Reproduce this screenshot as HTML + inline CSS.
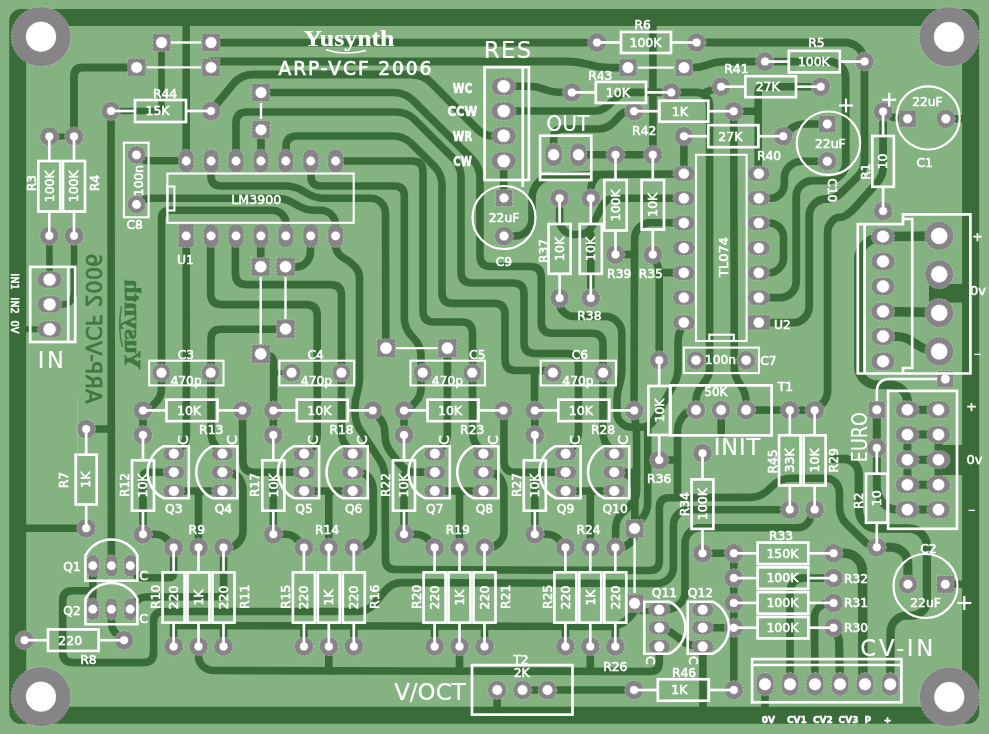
<!DOCTYPE html><html><head><meta charset="utf-8"><title>ARP-VCF 2006 PCB</title>
<style>html,body{margin:0;padding:0;background:#84b381}svg{display:block;will-change:transform}text{font-family:"DejaVu Sans","Liberation Sans",sans-serif;fill:#ffffff;stroke:#ffffff;stroke-width:0.55px}.logo{font-family:"Liberation Serif",serif;font-weight:bold}.cu{fill:#3f783e;stroke:#3f783e;stroke-width:0.8px}.big{stroke-width:0.6px}</style></head><body>
<svg width="989" height="734" viewBox="0 0 989 734">
<rect width="989" height="734" fill="#84b381"/>
<g fill="none" stroke="#396c38" stroke-linecap="round" stroke-linejoin="round">
<rect x="17.7" y="17.55" width="952.9" height="697.75" rx="3" stroke-width="17"/>
<path d="M161.5 42.5 L161.5 107.0 Q161.5 111.0 157.5 111.0 L111.0 111.0" stroke-width="6.5"/>
<path d="M186.2 161.0 L186.2 20.0" stroke-width="7.6"/>
<path d="M211.0 42.7 L597.0 42.7" stroke-width="7.8"/>
<path d="M211.0 61.5 L568.0 61.5 Q578.0 61.5 587.6 64.2 L590.4 64.9 Q600.0 67.6 610.0 67.6 L628.0 67.6" stroke-width="7.8"/>
<path d="M74.0 136.4 L74.0 76.5 Q74.0 67.5 83.0 67.5 L136.6 67.5" stroke-width="7.8"/>
<path d="M49.3 136.4 L74.0 136.4" stroke-width="6"/>
<path d="M49.3 236.0 L49.6 279.6" stroke-width="6.5"/>
<path d="M74.0 236.0 L74.0 292.2 Q74.0 297.0 71.0 300.7 L71.0 300.7 Q68.0 304.4 63.2 304.4 L49.6 304.4" stroke-width="6.5"/>
<path d="M49.6 329.3 L20.0 329.3" stroke-width="6"/>
<path d="M136.5 154.9 L142.5 159.1 Q145.0 160.8 148.0 160.8 L186.0 160.8" stroke-width="7.6"/>
<path d="M261.0 129.7 L261.0 161.0" stroke-width="7.6"/>
<path d="M211.0 111.0 L233.4 83.8 Q241.0 74.5 253.0 74.5 L411.0 74.5 Q423.0 74.5 431.5 83.0 L477.1 129.0 Q484.0 136.0 493.9 136.0 L503.7 136.0" stroke-width="7.8"/>
<path d="M211.0 161.0 L211.0 176.0 Q211.0 186.0 221.0 186.0 L285.0 186.0 Q295.0 186.0 303.5 191.2 L306.5 193.1 Q315.0 198.3 325.0 198.3 L370.9 198.3 Q377.0 198.3 381.2 202.7 L381.2 202.7 Q385.5 207.0 385.5 213.1 L385.8 348.0" stroke-width="7.6"/>
<path d="M136.5 204.5 L140.8 201.4 Q145.0 198.3 150.3 198.3 L276.0 198.3 Q285.0 198.3 292.8 202.8 L298.2 205.8 Q306.0 210.3 315.0 210.3 L320.9 210.3 Q327.0 210.3 331.3 214.7 L331.3 214.7 Q335.6 219.0 335.6 225.1 L335.6 236.0" stroke-width="7.6"/>
<path d="M161.5 373.0 L161.5 219.3 Q161.5 210.3 170.5 210.3 L272.4 210.3 Q278.0 210.3 282.0 214.2 L282.0 214.2 Q286.0 218.0 286.0 223.6 L286.0 236.0" stroke-width="7.6"/>
<path d="M311.0 161.0 L311.0 176.0 Q311.0 186.0 321.0 186.0 L394.3 186.0 Q404.3 186.0 404.3 196.0 L404.3 318.0 Q404.3 328.0 411.1 335.3 L414.2 338.7 Q421.0 346.0 421.0 356.0 L421.0 387.9 Q421.0 396.0 415.5 402.0 L412.2 405.6 Q410.0 408.0 407.0 409.2 L404.0 410.5" stroke-width="7.6"/>
<path d="M335.6 161.0 L412.0 161.0 Q423.0 161.0 423.0 172.0 L423.0 311.0 Q423.0 322.0 434.0 322.0 L461.5 322.0 Q472.5 322.0 472.5 333.0 L472.5 432.2 Q472.5 441.0 478.6 447.4 L484.6 453.8" stroke-width="7.6"/>
<path d="M286.0 161.0 L286.0 147.0 Q286.0 136.0 297.0 136.0 L393.0 136.0 Q404.0 136.0 411.8 143.8 L434.2 166.2 Q442.0 174.0 442.0 185.0 L442.0 292.4 Q442.0 303.4 453.0 303.4 L494.0 303.4 Q505.0 303.4 505.0 314.4 L505.0 359.5 Q505.0 370.5 516.0 370.5 L553.0 370.5" stroke-width="7.6"/>
<path d="M534.5 370.5 L534.5 410.3" stroke-width="7.6"/>
<path d="M236.0 161.0 L236.0 123.0 Q236.0 112.0 247.0 112.0 L396.0 112.0 Q407.0 112.0 414.8 119.8 L453.2 158.2 Q461.0 166.0 461.0 177.0 L461.0 272.0 Q461.0 283.0 472.0 283.0 L513.0 283.0 Q524.0 283.0 524.0 294.0 L524.0 342.5 Q524.0 353.5 535.0 353.5 L567.5 353.5 Q578.5 353.5 578.5 364.5 L578.5 431.1 Q578.5 440.0 572.9 446.9 L567.3 453.8" stroke-width="7.6"/>
<path d="M261.0 92.5 L394.0 92.5 Q405.0 92.5 412.8 100.3 L472.2 159.2 Q480.0 167.0 480.0 178.0 L480.0 255.5 Q480.0 266.5 491.0 266.5 L530.3 266.5 Q541.3 266.5 541.3 277.5 L541.3 322.3 Q541.3 333.3 552.3 333.3 L592.0 333.3 Q603.0 333.3 603.0 344.3 L603.0 432.2 Q603.0 441.0 609.1 447.4 L615.2 453.8" stroke-width="7.6"/>
<path d="M186.2 235.8 L186.4 435.0 Q186.4 443.0 180.3 448.2 L173.8 453.8" stroke-width="7.6"/>
<path d="M210.7 235.8 L210.7 293.6 Q210.7 304.6 221.7 304.6 L306.2 304.6 Q317.2 304.6 317.2 315.6 L317.2 435.3 Q317.2 443.0 311.6 448.4 L306.1 453.8" stroke-width="7.6"/>
<path d="M235.4 235.8 L235.4 273.6 Q235.4 284.6 246.4 284.6 L330.5 284.6 Q341.5 284.6 341.5 295.6 L341.5 432.2 Q341.5 441.0 347.6 447.4 L353.6 453.8" stroke-width="7.6"/>
<path d="M260.7 235.8 L260.7 267.0" stroke-width="7.6"/>
<path d="M310.5 235.8 L310.5 251.8 Q310.5 258.0 306.2 262.5 L306.2 262.5 Q302.0 267.0 295.8 267.0 L285.5 267.0" stroke-width="7.6"/>
<path d="M335.6 235.8 L335.6 244.4 Q335.6 253.0 342.9 257.5 L347.0 260.0 Q352.0 263.0 355.8 267.5 L355.8 267.5 Q359.5 272.0 359.5 277.9 L359.5 378.6 Q359.5 386.0 357.2 393.0 L357.2 393.0 Q355.0 400.0 355.0 407.4 L355.0 412.0 Q355.0 422.0 360.5 430.4 L379.5 459.6 Q385.0 468.0 385.0 478.0 L385.5 559.5 Q385.5 569.5 395.5 569.5 L649.4 570.5 Q659.4 570.5 659.4 560.5 L659.4 507.8 Q659.4 497.8 669.4 497.8 L750.0 497.4 Q760.0 497.4 767.4 490.7 L773.6 485.0 Q781.0 478.3 791.0 478.3 L826.3 478.3 Q832.0 478.3 835.8 482.6 L835.8 482.6 Q839.5 487.0 839.5 492.7 L839.5 507.0 Q839.5 517.0 846.6 524.0 L864.8 541.8 Q868.0 545.0 872.4 546.1 L876.8 547.3" stroke-width="7.6"/>
<path d="M285.5 329.3 L221.0 329.3 Q211.0 329.3 211.0 339.3 L211.0 432.4 Q211.0 441.0 216.7 447.4 L222.4 453.8" stroke-width="7.6"/>
<path d="M260.7 353.9 L267.1 354.9 Q273.6 356.0 273.6 362.5 L273.6 410.6" stroke-width="7.6"/>
<path d="M273.6 372.8 L291.6 372.8" stroke-width="5"/>
<path d="M161.4 372.8 L161.4 389.1 Q161.4 397.0 155.7 402.5 L152.7 405.4 Q150.0 408.0 146.5 409.2 L143.0 410.4" stroke-width="7.6"/>
<path d="M111.0 111.0 L111.4 565.7" stroke-width="7.6"/>
<path d="M111.4 429.0 L86.0 429.0" stroke-width="7.6"/>
<path d="M18.0 528.3 L86.5 528.3" stroke-width="7.6"/>
<path d="M447.4 348.1 L447.4 433.0 Q447.4 441.0 442.1 447.0 L436.0 453.8" stroke-width="7.6"/>
<path d="M143.0 410.4 L143.0 435.0" stroke-width="7.6"/>
<path d="M173.8 472.2 L148.0 472.2 Q143.0 472.2 143.0 477.2 L143.0 534.3" stroke-width="7.6"/>
<path d="M143.0 534.3 L155.0 534.3 Q163.0 534.3 168.0 540.5 L173.6 547.5" stroke-width="7.6"/>
<path d="M173.8 491.0 L222.4 491.0" stroke-width="7.6"/>
<path d="M198.5 491.0 L198.5 547.5" stroke-width="7.6"/>
<path d="M222.4 472.2 L229.5 472.6 Q236.0 473.0 239.5 478.5 L239.5 478.5 Q243.0 484.0 243.0 490.5 L243.0 531.6 Q243.0 538.0 238.5 542.5 L237.7 543.3 Q234.0 547.0 228.8 547.2 L223.5 547.5" stroke-width="7.6"/>
<path d="M173.6 646.4 L173.6 625.5" stroke-width="7.6"/>
<path d="M223.5 646.4 L223.5 625.5" stroke-width="7.6"/>
<path d="M273.3 410.4 L273.3 435.0" stroke-width="7.6"/>
<path d="M304.1 472.2 L278.3 472.2 Q273.3 472.2 273.3 477.2 L273.3 534.3" stroke-width="7.6"/>
<path d="M273.3 534.3 L285.3 534.3 Q293.3 534.3 298.3 540.5 L303.9 547.5" stroke-width="7.6"/>
<path d="M304.1 491.0 L352.7 491.0" stroke-width="7.6"/>
<path d="M328.8 491.0 L328.8 547.5" stroke-width="7.6"/>
<path d="M352.7 472.2 L359.8 472.6 Q366.3 473.0 369.8 478.5 L369.8 478.5 Q373.3 484.0 373.3 490.5 L373.3 531.6 Q373.3 538.0 368.8 542.5 L368.0 543.3 Q364.3 547.0 359.1 547.2 L353.8 547.5" stroke-width="7.6"/>
<path d="M303.9 646.4 L303.9 625.5" stroke-width="7.6"/>
<path d="M353.8 646.4 L353.8 625.5" stroke-width="7.6"/>
<path d="M404.0 410.4 L404.0 435.0" stroke-width="7.6"/>
<path d="M434.8 472.2 L409.0 472.2 Q404.0 472.2 404.0 477.2 L404.0 534.3" stroke-width="7.6"/>
<path d="M404.0 534.3 L416.0 534.3 Q424.0 534.3 429.0 540.5 L434.6 547.5" stroke-width="7.6"/>
<path d="M434.8 491.0 L483.4 491.0" stroke-width="7.6"/>
<path d="M459.5 491.0 L459.5 547.5" stroke-width="7.6"/>
<path d="M483.4 472.2 L490.5 472.6 Q497.0 473.0 500.5 478.5 L500.5 478.5 Q504.0 484.0 504.0 490.5 L504.0 531.6 Q504.0 538.0 499.5 542.5 L498.7 543.3 Q495.0 547.0 489.8 547.2 L484.5 547.5" stroke-width="7.6"/>
<path d="M434.6 646.4 L434.6 625.5" stroke-width="7.6"/>
<path d="M484.5 646.4 L484.5 625.5" stroke-width="7.6"/>
<path d="M534.8 410.4 L534.8 435.0" stroke-width="7.6"/>
<path d="M565.6 472.2 L539.8 472.2 Q534.8 472.2 534.8 477.2 L534.8 534.3" stroke-width="7.6"/>
<path d="M534.8 534.3 L546.8 534.3 Q554.8 534.3 559.8 540.5 L565.4 547.5" stroke-width="7.6"/>
<path d="M565.6 491.0 L614.2 491.0" stroke-width="7.6"/>
<path d="M590.3 491.0 L590.3 547.5" stroke-width="7.6"/>
<path d="M614.2 472.2 L621.3 472.6 Q627.8 473.0 631.3 478.5 L631.3 478.5 Q634.8 484.0 634.8 490.5 L634.8 531.6 Q634.8 538.0 630.3 542.5 L629.5 543.3 Q625.8 547.0 620.5 547.2 L615.3 547.5" stroke-width="7.6"/>
<path d="M565.4 646.4 L565.4 625.5" stroke-width="7.6"/>
<path d="M615.3 646.4 L615.3 625.5" stroke-width="7.6"/>
<path d="M242.4 410.4 L242.9 461.2 Q243.0 472.2 254.0 472.2 L306.1 472.2" stroke-width="7.6"/>
<path d="M372.9 410.4 L378.9 417.2 Q385.0 424.0 385.0 433.1 L385.0 435.0 Q385.0 445.0 391.2 452.9 L399.9 464.1 Q403.0 468.0 407.5 470.1 L407.5 470.1 Q412.0 472.2 417.0 472.2 L436.0 472.2" stroke-width="7.6"/>
<path d="M503.9 410.4 L504.0 461.2 Q504.0 472.2 515.0 472.2 L567.3 472.2" stroke-width="7.6"/>
<path d="M634.0 410.4 L635.5 422.1 Q636.6 430.0 636.6 438.0 L636.6 491.0 Q636.6 499.0 630.9 504.6 L621.7 513.4 Q616.0 519.0 615.8 527.0 L615.4 547.5" stroke-width="7.6"/>
<path d="M615.2 472.2 L636.6 472.2" stroke-width="7.6"/>
<path d="M647.7 427.3 L647.7 503.0 Q647.7 511.0 642.9 517.4 L634.7 528.3" stroke-width="7.6"/>
<path d="M173.6 625.5 L610.0 626.5 Q620.0 626.5 627.1 619.5 L631.5 615.1 Q634.6 612.0 634.6 607.6 L634.6 603.3" stroke-width="7.6"/>
<path d="M198.5 646.4 L198.5 656.0 Q198.5 662.0 202.8 666.2 L202.8 666.2 Q207.0 670.5 213.0 670.5 L650.3 671.5 Q659.3 671.5 659.3 662.5 L659.3 646.6" stroke-width="7.6"/>
<path d="M328.8 646.4 L328.8 671.0" stroke-width="7.6"/>
<path d="M459.5 646.4 L459.5 671.0" stroke-width="7.6"/>
<path d="M590.3 646.4 L590.3 671.0" stroke-width="7.6"/>
<path d="M92.8 565.7 L92.8 609.2" stroke-width="7.6"/>
<path d="M92.8 590.7 L72.7 590.7 Q62.7 590.7 62.7 600.7 L62.7 652.6 Q62.7 662.6 72.7 662.6 L143.6 662.6 Q153.6 662.6 153.6 652.6 L153.6 621.5 Q153.6 611.5 163.6 611.5 L358.0 611.5 Q368.0 611.5 374.4 603.8 L385.6 590.3 Q392.0 582.6 402.0 582.6 L657.3 583.5 Q664.0 583.5 668.7 578.8 L668.7 578.8 Q673.4 574.0 673.4 567.3 L673.4 525.3 Q673.4 519.0 677.7 514.4 L677.7 514.4 Q682.0 509.8 688.3 509.8 L789.8 509.8" stroke-width="7.6"/>
<path d="M130.2 565.7 L135.3 573.6 Q138.0 577.8 143.0 577.8 L168.6 577.8 Q173.6 577.8 173.6 572.8 L173.6 547.5" stroke-width="7.6"/>
<path d="M130.2 609.2 L136.2 601.7 Q140.0 597.0 146.0 597.0 L217.6 596.8 Q223.6 596.8 223.6 590.8 L223.6 547.5" stroke-width="7.6"/>
<path d="M111.4 609.2 L111.4 622.0 Q111.4 630.0 117.6 635.0 L124.0 640.2" stroke-width="7.6"/>
<path d="M503.7 161.0 L503.7 198.0" stroke-width="7.6"/>
<path d="M504.0 236.0 L514.9 236.0 Q522.0 236.0 527.0 231.0 L527.0 231.0 Q532.0 226.0 532.0 218.9 L532.0 198.5 Q532.0 190.0 537.5 183.5 L537.5 183.5 Q543.0 177.0 551.5 176.6 L590.0 174.9 Q600.0 174.5 610.0 174.4 L683.8 174.0" stroke-width="7.6"/>
<path d="M598.0 175.0 L594.4 179.5 Q590.8 184.0 590.8 189.8 L590.8 198.3" stroke-width="7.6"/>
<path d="M503.7 86.3 L529.0 86.3 Q537.0 86.3 544.4 89.3 L544.6 89.4 Q552.0 92.4 560.0 92.4 L571.8 92.4" stroke-width="7.6"/>
<path d="M503.7 111.0 L594.0 111.0 Q602.0 111.0 607.9 105.6 L616.1 97.8 Q622.0 92.4 630.0 92.4 L671.6 92.4" stroke-width="7.6"/>
<path d="M553.6 154.7 L553.6 138.0 Q553.6 129.0 562.6 129.0 L598.0 129.0 Q607.0 129.0 613.3 122.5 L620.5 115.0 Q624.0 111.4 629.0 111.4 L634.0 111.4" stroke-width="7.6"/>
<path d="M578.5 154.7 L652.9 154.7" stroke-width="7.6"/>
<path d="M652.9 154.7 L652.9 20.0" stroke-width="7.6"/>
<path d="M683.8 198.2 L615.0 198.2 Q606.0 198.2 602.0 206.3 L592.0 226.4 Q588.0 234.5 579.0 234.5 L574.0 234.5 Q568.0 234.5 563.8 230.2 L563.8 230.2 Q559.6 226.0 559.6 220.0 L559.6 198.2" stroke-width="7.6"/>
<path d="M590.8 234.5 L590.8 298.0" stroke-width="7.6"/>
<path d="M615.5 254.5 L634.6 254.5" stroke-width="7.6"/>
<path d="M634.0 410.4 L634.6 238.6 Q634.6 232.0 639.3 227.3 L639.3 227.3 Q644.0 222.7 650.6 222.7 L683.8 222.7" stroke-width="7.6"/>
<path d="M652.8 254.5 L656.6 262.6 Q659.2 268.0 659.2 274.0 L659.2 360.2" stroke-width="7.6"/>
<path d="M659.0 272.6 L683.8 272.6" stroke-width="7.6"/>
<path d="M559.6 298.0 L559.6 303.0 Q559.6 308.0 563.1 311.5 L563.8 312.2 Q568.0 316.4 573.9 316.4 L605.1 316.4 Q612.0 316.4 616.9 321.2 L616.9 321.2 Q621.8 326.0 621.8 332.9 L621.8 370.6 Q621.8 378.0 619.4 385.0 L619.4 385.0 Q617.0 392.0 617.0 399.4 L617.0 412.9 Q617.0 419.0 621.5 423.1 L621.5 423.1 Q626.0 427.3 632.1 427.3 L641.0 427.3 Q650.0 427.3 654.4 419.4 L673.6 384.9 Q678.0 377.0 678.0 368.0 L678.0 341.8 Q678.0 335.0 680.9 328.8 L683.8 322.6" stroke-width="7.6"/>
<path d="M659.2 460.0 L677.5 460.0" stroke-width="7.6"/>
<path d="M696.0 410.0 L691.0 411.0 Q686.0 412.0 683.1 416.2 L681.8 418.0 Q677.5 424.0 677.5 431.4 L677.5 497.0" stroke-width="7.6"/>
<path d="M684.0 136.2 L683.8 173.6" stroke-width="7.6"/>
<path d="M671.2 92.4 L696.6 92.4 Q702.0 92.4 705.8 96.2 L705.8 96.2 Q709.6 100.0 709.6 105.4 L709.6 368.0 Q709.6 375.0 705.5 380.7 L700.1 388.3 Q696.0 394.0 696.0 401.0 L696.0 410.0" stroke-width="7.6"/>
<path d="M706.0 92.0 L721.1 86.7" stroke-width="7.6"/>
<path d="M733.7 111.2 L734.3 367.0 Q734.3 375.0 738.5 381.8 L741.9 387.2 Q746.1 394.0 746.1 402.0 L746.1 410.0" stroke-width="7.6"/>
<path d="M733.7 111.2 L758.2 111.2" stroke-width="7.6"/>
<path d="M820.7 86.7 L763.2 86.7 Q758.2 86.7 758.2 91.7 L758.2 173.6" stroke-width="7.6"/>
<path d="M758.8 223.0 L769.2 223.0 Q775.0 223.0 779.2 227.0 L779.2 227.0 Q783.5 231.0 783.5 236.8 L783.5 257.9 Q783.5 264.0 779.2 268.4 L779.2 268.4 Q775.0 272.8 768.9 272.8 L758.8 272.8" stroke-width="7.6"/>
<path d="M721.2 410.0 L721.2 434.0" stroke-width="7.6"/>
<path d="M746.1 410.0 L814.6 410.3" stroke-width="7.6"/>
<path d="M814.7 509.6 L809.9 519.7 Q806.0 527.8 797.0 527.8 L700.4 527.8 Q694.0 527.8 689.5 532.4 L689.5 532.4 Q685.0 537.0 685.0 543.4 L685.0 591.9 Q685.0 600.0 678.5 604.9 L677.1 605.9 Q672.0 609.7 665.6 609.7 L659.3 609.7" stroke-width="7.6"/>
<path d="M702.5 553.3 L733.8 553.3" stroke-width="7.6"/>
<path d="M733.8 553.3 L733.8 690.0" stroke-width="7.6"/>
<path d="M702.7 627.7 L733.8 627.7" stroke-width="7.6"/>
<path d="M659.3 627.7 L663.6 628.9 Q668.0 630.0 671.6 632.7 L683.2 641.4 Q688.0 645.0 694.0 645.6 L702.7 646.6" stroke-width="7.6"/>
<path d="M702.9 646.6 L703.0 712.0" stroke-width="7.6"/>
<path d="M634.6 603.3 L637.9 608.6 Q640.0 612.0 644.0 611.5 L659.3 609.7" stroke-width="6"/>
<path d="M522.5 690.0 L634.0 690.0" stroke-width="7.6"/>
<path d="M497.2 690.0 L497.2 712.0" stroke-width="7.6"/>
<path d="M696.6 42.5 L844.9 42.5 Q853.0 42.5 858.8 48.2 L858.8 48.2 Q864.5 54.0 864.5 62.1 L864.5 160.0 Q864.5 170.0 857.4 177.0 L840.7 193.4 Q835.0 199.0 827.0 199.0 L826.0 199.0 Q819.0 199.0 814.1 204.0 L814.1 204.0 Q809.2 209.0 809.2 216.0 L809.2 306.4 Q809.2 313.0 804.6 317.8 L804.6 317.8 Q800.0 322.6 793.4 322.6 L758.8 322.6" stroke-width="7.8"/>
<path d="M684.0 67.6 L692.0 67.6 Q700.0 67.6 707.5 64.8 L708.0 64.6 Q716.0 61.6 724.5 61.6 L829.3 61.6 Q836.0 61.6 840.8 66.3 L840.8 66.3 Q845.6 71.0 845.6 77.7 L845.8 162.4 Q845.8 170.0 840.4 175.3 L840.4 175.3 Q835.0 180.6 827.4 180.6 L812.8 180.6 Q806.0 180.6 801.1 185.3 L801.1 185.3 Q796.2 190.0 796.2 196.8 L796.2 281.4 Q796.2 288.0 791.6 292.8 L791.6 292.8 Q787.0 297.6 780.4 297.6 L758.8 297.6" stroke-width="7.8"/>
<path d="M783.2 136.2 L790.2 129.5 Q796.0 124.0 804.0 124.0 L827.3 124.0" stroke-width="7.6"/>
<path d="M827.3 161.2 L802.3 161.2 Q795.0 161.2 789.6 166.1 L789.6 166.1 Q784.3 171.0 784.3 178.3 L784.3 184.1 Q784.3 190.0 780.1 194.2 L780.1 194.2 Q776.0 198.3 770.1 198.3 L758.8 198.3" stroke-width="7.6"/>
<path d="M883.1 111.6 L883.1 167.0 Q883.1 176.0 877.1 182.7 L855.7 206.9 Q852.0 211.0 847.5 214.2 L845.9 215.4 Q843.0 217.4 839.5 217.4 L839.5 217.4 Q836.0 217.4 833.6 219.9 L831.8 221.7 Q827.6 226.0 827.6 232.0 L827.6 390.4 Q827.6 399.0 821.1 404.6 L814.6 410.3" stroke-width="7.8"/>
<path d="M883.1 111.6 L888.7 115.3 Q892.0 117.5 896.0 117.8 L907.6 118.8" stroke-width="7.6"/>
<path d="M945.8 118.8 L968.0 118.8" stroke-width="7.6"/>
<path d="M883.0 236.5 L939.0 236.0" stroke-width="9.5"/>
<path d="M883.0 311.5 L939.0 312.5" stroke-width="9.5"/>
<rect x="929" y="284" width="38" height="18.5" fill="#396c38" stroke="none"/>
<path d="M883.0 336.3 L897.0 336.6 Q905.0 336.8 911.7 341.2 L919.1 346.1 Q925.0 350.0 932.0 350.7 L939.0 351.4" stroke-width="9"/>
<path d="M883.0 236.5 L875.4 238.3 Q868.0 240.0 863.3 246.0 L863.3 246.0 Q858.6 252.0 858.6 259.6 L858.6 366.5 Q858.6 374.0 863.8 379.4 L863.8 379.4 Q869.0 384.7 876.5 384.7 L889.6 384.7 Q897.0 384.7 902.2 389.9 L902.3 389.9 Q907.5 395.0 907.5 402.4 L907.5 409.7" stroke-width="9"/>
<path d="M876.8 409.7 L876.8 485.8 Q876.8 495.0 882.4 502.3 L882.4 502.3 Q888.0 509.6 897.2 509.6 L938.5 509.6" stroke-width="8"/>
<path d="M907.4 409.7 L938.5 409.7" stroke-width="8"/>
<path d="M907.4 434.6 L938.5 434.6" stroke-width="8"/>
<path d="M907.4 459.7 L938.5 459.7" stroke-width="8"/>
<path d="M907.4 484.7 L938.5 484.7" stroke-width="8"/>
<path d="M907.4 434.6 L907.4 484.7" stroke-width="8"/>
<path d="M938.5 434.6 L938.5 484.7" stroke-width="8"/>
<rect x="938" y="445" width="28" height="30" fill="#396c38" stroke="none"/>
<path d="M833.0 459.0 L843.7 459.0 Q850.0 459.0 854.4 463.5 L854.4 463.5 Q858.8 468.0 858.8 474.3 L858.8 509.3 Q858.8 517.0 863.9 522.8 L863.9 522.8 Q869.0 528.5 876.7 528.5 L908.4 528.5 Q916.0 528.5 921.5 533.8 L921.5 533.8 Q926.9 539.0 926.9 546.6 L926.9 600.8 Q926.9 607.0 922.5 611.3 L922.5 611.3 Q918.0 615.6 911.8 615.6 L906.6 615.6 Q900.0 615.6 895.4 620.3 L895.4 620.3 Q890.7 625.0 890.6 631.6 L890.2 684.2" stroke-width="8.3"/>
<path d="M876.8 547.3 L891.1 547.3 Q898.0 547.3 903.0 552.1 L903.0 552.1 Q907.9 557.0 907.9 563.9 L907.9 584.3" stroke-width="9"/>
<path d="M945.3 584.3 L968.0 584.3" stroke-width="7.6"/>
<path d="M765.0 684.2 L765.0 712.0" stroke-width="7.6"/>
<path d="M833.5 578.1 L803.6 578.1 Q798.0 578.1 794.0 582.0 L794.0 582.0 Q790.0 586.0 790.0 591.6 L790.0 684.2" stroke-width="7.6"/>
<path d="M833.5 602.9 L827.5 603.5 Q822.0 604.0 818.2 608.0 L818.2 608.0 Q814.5 612.0 814.5 617.5 L815.0 684.2" stroke-width="7.6"/>
<path d="M833.5 627.7 L837.1 634.5 Q839.0 638.0 839.1 642.0 L840.0 684.2" stroke-width="8.2"/>
<path d="M833.5 553.3 L844.5 553.3 Q852.0 553.3 857.2 558.6 L857.2 558.6 Q862.5 564.0 862.5 571.5 L863.0 684.2" stroke-width="9.5"/>
</g><g fill="#878487" stroke="#dfe6df" stroke-opacity="0.55" stroke-width="0.8" stroke-dasharray="2 1.6">
<circle cx="41" cy="36.7" r="29.8"/>
<circle cx="41" cy="36.7" r="15" fill="#ffffff"/>
<circle cx="949" cy="36.9" r="29.8"/>
<circle cx="949" cy="36.9" r="15" fill="#ffffff"/>
<circle cx="41" cy="696.7" r="29.8"/>
<circle cx="41" cy="696.7" r="15" fill="#ffffff"/>
<circle cx="949.3" cy="697" r="29.8"/>
<circle cx="949.3" cy="697" r="15" fill="#ffffff"/>
<rect x="152.5" y="33.5" width="18" height="18"/>
<circle cx="161.5" cy="42.5" r="5.5" fill="#ffffff"/>
<rect x="202.0" y="33.5" width="18" height="18"/>
<circle cx="211" cy="42.5" r="5.5" fill="#ffffff"/>
<rect x="127.6" y="58.400000000000006" width="18" height="18"/>
<circle cx="136.6" cy="67.4" r="5.5" fill="#ffffff"/>
<rect x="202.0" y="58.400000000000006" width="18" height="18"/>
<circle cx="211" cy="67.4" r="5.5" fill="#ffffff"/>
<circle cx="111" cy="111" r="9.5"/>
<circle cx="111" cy="111" r="4" fill="#ffffff"/>
<circle cx="211" cy="111" r="9.5"/>
<circle cx="211" cy="111" r="4" fill="#ffffff"/>
<circle cx="49.3" cy="136.4" r="9.5"/>
<circle cx="49.3" cy="136.4" r="4" fill="#ffffff"/>
<circle cx="49.3" cy="235.8" r="9.5"/>
<circle cx="49.3" cy="235.8" r="4" fill="#ffffff"/>
<circle cx="74" cy="136.4" r="9.5"/>
<circle cx="74" cy="136.4" r="4" fill="#ffffff"/>
<circle cx="74" cy="235.8" r="9.5"/>
<circle cx="74" cy="235.8" r="4" fill="#ffffff"/>
<rect x="37.3" y="271.20000000000005" width="24.6" height="16.8" rx="8.4"/>
<circle cx="49.6" cy="279.6" r="6.2" fill="#ffffff"/>
<rect x="37.3" y="296.0" width="24.6" height="16.8" rx="8.4"/>
<circle cx="49.6" cy="304.4" r="6.2" fill="#ffffff"/>
<rect x="37.3" y="320.90000000000003" width="24.6" height="16.8" rx="8.4"/>
<circle cx="49.6" cy="329.3" r="6.2" fill="#ffffff"/>
<circle cx="136.5" cy="154.9" r="9"/>
<circle cx="136.5" cy="154.9" r="4.4" fill="#ffffff"/>
<circle cx="136.5" cy="204.5" r="9"/>
<circle cx="136.5" cy="204.5" r="4.4" fill="#ffffff"/>
<rect x="178.45" y="149.25" width="15.5" height="23.5" rx="7.75"/>
<circle cx="186.2" cy="161" r="4.4" fill="#ffffff"/>
<rect x="178.45" y="224.05" width="15.5" height="23.5" rx="0"/>
<circle cx="186.2" cy="235.8" r="4.4" fill="#ffffff"/>
<rect x="203.35" y="149.25" width="15.5" height="23.5" rx="7.75"/>
<circle cx="211.1" cy="161" r="4.4" fill="#ffffff"/>
<rect x="203.35" y="224.05" width="15.5" height="23.5" rx="7.75"/>
<circle cx="211.1" cy="235.8" r="4.4" fill="#ffffff"/>
<rect x="228.25" y="149.25" width="15.5" height="23.5" rx="7.75"/>
<circle cx="236.0" cy="161" r="4.4" fill="#ffffff"/>
<rect x="228.25" y="224.05" width="15.5" height="23.5" rx="7.75"/>
<circle cx="236.0" cy="235.8" r="4.4" fill="#ffffff"/>
<rect x="253.14999999999998" y="149.25" width="15.5" height="23.5" rx="7.75"/>
<circle cx="260.9" cy="161" r="4.4" fill="#ffffff"/>
<rect x="253.14999999999998" y="224.05" width="15.5" height="23.5" rx="7.75"/>
<circle cx="260.9" cy="235.8" r="4.4" fill="#ffffff"/>
<rect x="278.04999999999995" y="149.25" width="15.5" height="23.5" rx="7.75"/>
<circle cx="285.79999999999995" cy="161" r="4.4" fill="#ffffff"/>
<rect x="278.04999999999995" y="224.05" width="15.5" height="23.5" rx="7.75"/>
<circle cx="285.79999999999995" cy="235.8" r="4.4" fill="#ffffff"/>
<rect x="302.95" y="149.25" width="15.5" height="23.5" rx="7.75"/>
<circle cx="310.7" cy="161" r="4.4" fill="#ffffff"/>
<rect x="302.95" y="224.05" width="15.5" height="23.5" rx="7.75"/>
<circle cx="310.7" cy="235.8" r="4.4" fill="#ffffff"/>
<rect x="327.84999999999997" y="149.25" width="15.5" height="23.5" rx="7.75"/>
<circle cx="335.59999999999997" cy="161" r="4.4" fill="#ffffff"/>
<rect x="327.84999999999997" y="224.05" width="15.5" height="23.5" rx="7.75"/>
<circle cx="335.59999999999997" cy="235.8" r="4.4" fill="#ffffff"/>
<rect x="252.0" y="83.5" width="18" height="18"/>
<circle cx="261" cy="92.5" r="5.5" fill="#ffffff"/>
<rect x="252.0" y="120.69999999999999" width="18" height="18"/>
<circle cx="261" cy="129.7" r="5.5" fill="#ffffff"/>
<rect x="251.45" y="257.45" width="18.5" height="18.5"/>
<circle cx="260.7" cy="266.7" r="5.8" fill="#ffffff"/>
<rect x="276.25" y="257.45" width="18.5" height="18.5"/>
<circle cx="285.5" cy="266.7" r="5.8" fill="#ffffff"/>
<rect x="276.25" y="319.75" width="18.5" height="18.5"/>
<circle cx="285.5" cy="329" r="5.8" fill="#ffffff"/>
<rect x="251.45" y="344.65" width="18.5" height="18.5"/>
<circle cx="260.7" cy="353.9" r="5.8" fill="#ffffff"/>
<circle cx="86.2" cy="429" r="9.5"/>
<circle cx="86.2" cy="429" r="4" fill="#ffffff"/>
<circle cx="86.2" cy="528.3" r="9.5"/>
<circle cx="86.2" cy="528.3" r="4" fill="#ffffff"/>
<circle cx="161.4" cy="372.8" r="9.2"/>
<circle cx="161.4" cy="372.8" r="5" fill="#ffffff"/>
<circle cx="210.7" cy="372.8" r="9.2"/>
<circle cx="210.7" cy="372.8" r="5" fill="#ffffff"/>
<circle cx="291.6" cy="372.8" r="9.2"/>
<circle cx="291.6" cy="372.8" r="5" fill="#ffffff"/>
<circle cx="341.4" cy="372.8" r="9.2"/>
<circle cx="341.4" cy="372.8" r="5" fill="#ffffff"/>
<circle cx="422.7" cy="372.8" r="9.2"/>
<circle cx="422.7" cy="372.8" r="5" fill="#ffffff"/>
<circle cx="472.2" cy="372.8" r="9.2"/>
<circle cx="472.2" cy="372.8" r="5" fill="#ffffff"/>
<circle cx="552.9" cy="372.8" r="9.2"/>
<circle cx="552.9" cy="372.8" r="5" fill="#ffffff"/>
<circle cx="603.1" cy="372.8" r="9.2"/>
<circle cx="603.1" cy="372.8" r="5" fill="#ffffff"/>
<rect x="376.75" y="338.85" width="18.5" height="18.5"/>
<circle cx="386" cy="348.1" r="5.8" fill="#ffffff"/>
<rect x="438.15" y="338.85" width="18.5" height="18.5"/>
<circle cx="447.4" cy="348.1" r="5.8" fill="#ffffff"/>
<circle cx="143" cy="410.4" r="9.5"/>
<circle cx="143" cy="410.4" r="4" fill="#ffffff"/>
<circle cx="242.4" cy="410.4" r="9.5"/>
<circle cx="242.4" cy="410.4" r="4" fill="#ffffff"/>
<circle cx="143" cy="435" r="9.5"/>
<circle cx="143" cy="435" r="4" fill="#ffffff"/>
<circle cx="143" cy="534.3" r="9.5"/>
<circle cx="143" cy="534.3" r="4" fill="#ffffff"/>
<rect x="163.05" y="447.05" width="21.5" height="13.5" rx="6.75"/>
<circle cx="173.8" cy="453.8" r="5" fill="#ffffff"/>
<rect x="211.65" y="447.05" width="21.5" height="13.5" rx="6.75"/>
<circle cx="222.4" cy="453.8" r="5" fill="#ffffff"/>
<rect x="163.05" y="465.45" width="21.5" height="13.5" rx="6.75"/>
<circle cx="173.8" cy="472.2" r="5" fill="#ffffff"/>
<rect x="211.65" y="465.45" width="21.5" height="13.5" rx="6.75"/>
<circle cx="222.4" cy="472.2" r="5" fill="#ffffff"/>
<rect x="163.05" y="484.25" width="21.5" height="13.5" rx="6.75"/>
<circle cx="173.8" cy="491" r="5" fill="#ffffff"/>
<rect x="211.65" y="484.25" width="21.5" height="13.5" rx="6.75"/>
<circle cx="222.4" cy="491" r="5" fill="#ffffff"/>
<circle cx="173.6" cy="547.5" r="9.5"/>
<circle cx="173.6" cy="547.5" r="4" fill="#ffffff"/>
<circle cx="173.6" cy="646.4" r="9.5"/>
<circle cx="173.6" cy="646.4" r="4" fill="#ffffff"/>
<circle cx="198.5" cy="547.5" r="9.5"/>
<circle cx="198.5" cy="547.5" r="4" fill="#ffffff"/>
<circle cx="198.5" cy="646.4" r="9.5"/>
<circle cx="198.5" cy="646.4" r="4" fill="#ffffff"/>
<circle cx="223.5" cy="547.5" r="9.5"/>
<circle cx="223.5" cy="547.5" r="4" fill="#ffffff"/>
<circle cx="223.5" cy="646.4" r="9.5"/>
<circle cx="223.5" cy="646.4" r="4" fill="#ffffff"/>
<circle cx="273.3" cy="410.4" r="9.5"/>
<circle cx="273.3" cy="410.4" r="4" fill="#ffffff"/>
<circle cx="372.70000000000005" cy="410.4" r="9.5"/>
<circle cx="372.70000000000005" cy="410.4" r="4" fill="#ffffff"/>
<circle cx="273.3" cy="435" r="9.5"/>
<circle cx="273.3" cy="435" r="4" fill="#ffffff"/>
<circle cx="273.3" cy="534.3" r="9.5"/>
<circle cx="273.3" cy="534.3" r="4" fill="#ffffff"/>
<rect x="293.35" y="447.05" width="21.5" height="13.5" rx="6.75"/>
<circle cx="304.1" cy="453.8" r="5" fill="#ffffff"/>
<rect x="341.95000000000005" y="447.05" width="21.5" height="13.5" rx="6.75"/>
<circle cx="352.70000000000005" cy="453.8" r="5" fill="#ffffff"/>
<rect x="293.35" y="465.45" width="21.5" height="13.5" rx="6.75"/>
<circle cx="304.1" cy="472.2" r="5" fill="#ffffff"/>
<rect x="341.95000000000005" y="465.45" width="21.5" height="13.5" rx="6.75"/>
<circle cx="352.70000000000005" cy="472.2" r="5" fill="#ffffff"/>
<rect x="293.35" y="484.25" width="21.5" height="13.5" rx="6.75"/>
<circle cx="304.1" cy="491" r="5" fill="#ffffff"/>
<rect x="341.95000000000005" y="484.25" width="21.5" height="13.5" rx="6.75"/>
<circle cx="352.70000000000005" cy="491" r="5" fill="#ffffff"/>
<circle cx="303.9" cy="547.5" r="9.5"/>
<circle cx="303.9" cy="547.5" r="4" fill="#ffffff"/>
<circle cx="303.9" cy="646.4" r="9.5"/>
<circle cx="303.9" cy="646.4" r="4" fill="#ffffff"/>
<circle cx="328.8" cy="547.5" r="9.5"/>
<circle cx="328.8" cy="547.5" r="4" fill="#ffffff"/>
<circle cx="328.8" cy="646.4" r="9.5"/>
<circle cx="328.8" cy="646.4" r="4" fill="#ffffff"/>
<circle cx="353.8" cy="547.5" r="9.5"/>
<circle cx="353.8" cy="547.5" r="4" fill="#ffffff"/>
<circle cx="353.8" cy="646.4" r="9.5"/>
<circle cx="353.8" cy="646.4" r="4" fill="#ffffff"/>
<circle cx="404" cy="410.4" r="9.5"/>
<circle cx="404" cy="410.4" r="4" fill="#ffffff"/>
<circle cx="503.4" cy="410.4" r="9.5"/>
<circle cx="503.4" cy="410.4" r="4" fill="#ffffff"/>
<circle cx="404" cy="435" r="9.5"/>
<circle cx="404" cy="435" r="4" fill="#ffffff"/>
<circle cx="404" cy="534.3" r="9.5"/>
<circle cx="404" cy="534.3" r="4" fill="#ffffff"/>
<rect x="424.05" y="447.05" width="21.5" height="13.5" rx="6.75"/>
<circle cx="434.8" cy="453.8" r="5" fill="#ffffff"/>
<rect x="472.65" y="447.05" width="21.5" height="13.5" rx="6.75"/>
<circle cx="483.4" cy="453.8" r="5" fill="#ffffff"/>
<rect x="424.05" y="465.45" width="21.5" height="13.5" rx="6.75"/>
<circle cx="434.8" cy="472.2" r="5" fill="#ffffff"/>
<rect x="472.65" y="465.45" width="21.5" height="13.5" rx="6.75"/>
<circle cx="483.4" cy="472.2" r="5" fill="#ffffff"/>
<rect x="424.05" y="484.25" width="21.5" height="13.5" rx="6.75"/>
<circle cx="434.8" cy="491" r="5" fill="#ffffff"/>
<rect x="472.65" y="484.25" width="21.5" height="13.5" rx="6.75"/>
<circle cx="483.4" cy="491" r="5" fill="#ffffff"/>
<circle cx="434.6" cy="547.5" r="9.5"/>
<circle cx="434.6" cy="547.5" r="4" fill="#ffffff"/>
<circle cx="434.6" cy="646.4" r="9.5"/>
<circle cx="434.6" cy="646.4" r="4" fill="#ffffff"/>
<circle cx="459.5" cy="547.5" r="9.5"/>
<circle cx="459.5" cy="547.5" r="4" fill="#ffffff"/>
<circle cx="459.5" cy="646.4" r="9.5"/>
<circle cx="459.5" cy="646.4" r="4" fill="#ffffff"/>
<circle cx="484.5" cy="547.5" r="9.5"/>
<circle cx="484.5" cy="547.5" r="4" fill="#ffffff"/>
<circle cx="484.5" cy="646.4" r="9.5"/>
<circle cx="484.5" cy="646.4" r="4" fill="#ffffff"/>
<circle cx="534.8" cy="410.4" r="9.5"/>
<circle cx="534.8" cy="410.4" r="4" fill="#ffffff"/>
<circle cx="634.2" cy="410.4" r="9.5"/>
<circle cx="634.2" cy="410.4" r="4" fill="#ffffff"/>
<circle cx="534.8" cy="435" r="9.5"/>
<circle cx="534.8" cy="435" r="4" fill="#ffffff"/>
<circle cx="534.8" cy="534.3" r="9.5"/>
<circle cx="534.8" cy="534.3" r="4" fill="#ffffff"/>
<rect x="554.85" y="447.05" width="21.5" height="13.5" rx="6.75"/>
<circle cx="565.6" cy="453.8" r="5" fill="#ffffff"/>
<rect x="603.45" y="447.05" width="21.5" height="13.5" rx="6.75"/>
<circle cx="614.2" cy="453.8" r="5" fill="#ffffff"/>
<rect x="554.85" y="465.45" width="21.5" height="13.5" rx="6.75"/>
<circle cx="565.6" cy="472.2" r="5" fill="#ffffff"/>
<rect x="603.45" y="465.45" width="21.5" height="13.5" rx="6.75"/>
<circle cx="614.2" cy="472.2" r="5" fill="#ffffff"/>
<rect x="554.85" y="484.25" width="21.5" height="13.5" rx="6.75"/>
<circle cx="565.6" cy="491" r="5" fill="#ffffff"/>
<rect x="603.45" y="484.25" width="21.5" height="13.5" rx="6.75"/>
<circle cx="614.2" cy="491" r="5" fill="#ffffff"/>
<circle cx="565.4" cy="547.5" r="9.5"/>
<circle cx="565.4" cy="547.5" r="4" fill="#ffffff"/>
<circle cx="565.4" cy="646.4" r="9.5"/>
<circle cx="565.4" cy="646.4" r="4" fill="#ffffff"/>
<circle cx="590.3" cy="547.5" r="9.5"/>
<circle cx="590.3" cy="547.5" r="4" fill="#ffffff"/>
<circle cx="590.3" cy="646.4" r="9.5"/>
<circle cx="590.3" cy="646.4" r="4" fill="#ffffff"/>
<circle cx="615.3" cy="547.5" r="9.5"/>
<circle cx="615.3" cy="547.5" r="4" fill="#ffffff"/>
<circle cx="615.3" cy="646.4" r="9.5"/>
<circle cx="615.3" cy="646.4" r="4" fill="#ffffff"/>
<rect x="625.5" y="519.4" width="18" height="18"/>
<circle cx="634.5" cy="528.4" r="5.5" fill="#ffffff"/>
<rect x="625.6" y="594.3" width="18" height="18"/>
<circle cx="634.6" cy="603.3" r="5.5" fill="#ffffff"/>
<rect x="86.55" y="554.7" width="12.5" height="22" rx="6.25"/>
<circle cx="92.8" cy="565.7" r="4.4" fill="#ffffff"/>
<rect x="105.15" y="554.7" width="12.5" height="22" rx="6.25"/>
<circle cx="111.4" cy="565.7" r="4.4" fill="#ffffff"/>
<rect x="123.94999999999999" y="554.7" width="12.5" height="22" rx="6.25"/>
<circle cx="130.2" cy="565.7" r="4.4" fill="#ffffff"/>
<rect x="86.55" y="598.2" width="12.5" height="22" rx="6.25"/>
<circle cx="92.8" cy="609.2" r="4.4" fill="#ffffff"/>
<rect x="105.15" y="598.2" width="12.5" height="22" rx="6.25"/>
<circle cx="111.4" cy="609.2" r="4.4" fill="#ffffff"/>
<rect x="123.94999999999999" y="598.2" width="12.5" height="22" rx="6.25"/>
<circle cx="130.2" cy="609.2" r="4.4" fill="#ffffff"/>
<circle cx="24.5" cy="640.2" r="9.5"/>
<circle cx="24.5" cy="640.2" r="4" fill="#ffffff"/>
<circle cx="124" cy="640.2" r="9.5"/>
<circle cx="124" cy="640.2" r="4" fill="#ffffff"/>
<rect x="491.45" y="77.3" width="24.5" height="18" rx="9.0"/>
<circle cx="503.7" cy="86.3" r="6.3" fill="#ffffff"/>
<rect x="491.45" y="102.0" width="24.5" height="18" rx="9.0"/>
<circle cx="503.7" cy="111" r="6.3" fill="#ffffff"/>
<rect x="491.45" y="126.80000000000001" width="24.5" height="18" rx="9.0"/>
<circle cx="503.7" cy="135.8" r="6.3" fill="#ffffff"/>
<rect x="491.45" y="152.0" width="24.5" height="18" rx="9.0"/>
<circle cx="503.7" cy="161" r="6.3" fill="#ffffff"/>
<rect x="495.5" y="189.5" width="17" height="17"/>
<circle cx="504" cy="198" r="4.5" fill="#ffffff"/>
<circle cx="504" cy="236" r="9.5"/>
<circle cx="504" cy="236" r="4.5" fill="#ffffff"/>
<rect x="545.1" y="142.95" width="17" height="23.5" rx="8.5"/>
<circle cx="553.6" cy="154.7" r="5.6" fill="#ffffff"/>
<rect x="570.0" y="142.95" width="17" height="23.5" rx="8.5"/>
<circle cx="578.5" cy="154.7" r="5.6" fill="#ffffff"/>
<circle cx="597" cy="42.5" r="9.5"/>
<circle cx="597" cy="42.5" r="4" fill="#ffffff"/>
<circle cx="696.6" cy="42.5" r="9.5"/>
<circle cx="696.6" cy="42.5" r="4" fill="#ffffff"/>
<rect x="619.25" y="58.849999999999994" width="17.5" height="17.5"/>
<circle cx="628" cy="67.6" r="5.5" fill="#ffffff"/>
<rect x="675.25" y="58.849999999999994" width="17.5" height="17.5"/>
<circle cx="684" cy="67.6" r="5.5" fill="#ffffff"/>
<circle cx="571.8" cy="92.4" r="9.5"/>
<circle cx="571.8" cy="92.4" r="4" fill="#ffffff"/>
<circle cx="671.2" cy="92.4" r="9.5"/>
<circle cx="671.2" cy="92.4" r="4" fill="#ffffff"/>
<circle cx="634" cy="111.2" r="9.5"/>
<circle cx="634" cy="111.2" r="4" fill="#ffffff"/>
<circle cx="733.7" cy="111.2" r="9.5"/>
<circle cx="733.7" cy="111.2" r="4" fill="#ffffff"/>
<circle cx="559.6" cy="198.2" r="9.5"/>
<circle cx="559.6" cy="198.2" r="4" fill="#ffffff"/>
<circle cx="559.6" cy="298" r="9.5"/>
<circle cx="559.6" cy="298" r="4" fill="#ffffff"/>
<circle cx="590.8" cy="198.2" r="9.5"/>
<circle cx="590.8" cy="198.2" r="4" fill="#ffffff"/>
<circle cx="590.8" cy="298" r="9.5"/>
<circle cx="590.8" cy="298" r="4" fill="#ffffff"/>
<circle cx="615.5" cy="154.7" r="9.5"/>
<circle cx="615.5" cy="154.7" r="4" fill="#ffffff"/>
<circle cx="615.5" cy="254.5" r="9.5"/>
<circle cx="615.5" cy="254.5" r="4" fill="#ffffff"/>
<circle cx="652.8" cy="154.7" r="9.5"/>
<circle cx="652.8" cy="154.7" r="4" fill="#ffffff"/>
<circle cx="652.8" cy="254.5" r="9.5"/>
<circle cx="652.8" cy="254.5" r="4" fill="#ffffff"/>
<circle cx="659.2" cy="360.2" r="9.5"/>
<circle cx="659.2" cy="360.2" r="4" fill="#ffffff"/>
<circle cx="659.2" cy="460" r="9.5"/>
<circle cx="659.2" cy="460" r="4" fill="#ffffff"/>
<rect x="672.8" y="166.1" width="22" height="15" rx="7.5"/>
<circle cx="683.8" cy="173.6" r="5.2" fill="#ffffff"/>
<rect x="747.8" y="166.1" width="22" height="15" rx="7.5"/>
<circle cx="758.8" cy="173.6" r="5.2" fill="#ffffff"/>
<rect x="672.8" y="190.8" width="22" height="15" rx="7.5"/>
<circle cx="683.8" cy="198.3" r="5.2" fill="#ffffff"/>
<rect x="747.8" y="190.8" width="22" height="15" rx="7.5"/>
<circle cx="758.8" cy="198.3" r="5.2" fill="#ffffff"/>
<rect x="672.8" y="215.5" width="22" height="15" rx="7.5"/>
<circle cx="683.8" cy="223" r="5.2" fill="#ffffff"/>
<rect x="747.8" y="215.5" width="22" height="15" rx="7.5"/>
<circle cx="758.8" cy="223" r="5.2" fill="#ffffff"/>
<rect x="672.8" y="240.5" width="22" height="15" rx="7.5"/>
<circle cx="683.8" cy="248" r="5.2" fill="#ffffff"/>
<rect x="747.8" y="240.5" width="22" height="15" rx="7.5"/>
<circle cx="758.8" cy="248" r="5.2" fill="#ffffff"/>
<rect x="672.8" y="265.3" width="22" height="15" rx="7.5"/>
<circle cx="683.8" cy="272.8" r="5.2" fill="#ffffff"/>
<rect x="747.8" y="265.3" width="22" height="15" rx="7.5"/>
<circle cx="758.8" cy="272.8" r="5.2" fill="#ffffff"/>
<rect x="672.8" y="290.1" width="22" height="15" rx="7.5"/>
<circle cx="683.8" cy="297.6" r="5.2" fill="#ffffff"/>
<rect x="747.8" y="290.1" width="22" height="15" rx="7.5"/>
<circle cx="758.8" cy="297.6" r="5.2" fill="#ffffff"/>
<rect x="672.8" y="315.0" width="22" height="15" rx="7.5"/>
<circle cx="683.8" cy="322.5" r="5.2" fill="#ffffff"/>
<rect x="747.8" y="315.0" width="22" height="15" rx="0"/>
<circle cx="758.8" cy="322.5" r="5.2" fill="#ffffff"/>
<circle cx="684" cy="136.2" r="9.5"/>
<circle cx="684" cy="136.2" r="4" fill="#ffffff"/>
<circle cx="783.2" cy="136.2" r="9.5"/>
<circle cx="783.2" cy="136.2" r="4" fill="#ffffff"/>
<circle cx="721.1" cy="86.7" r="9.5"/>
<circle cx="721.1" cy="86.7" r="4" fill="#ffffff"/>
<circle cx="820.7" cy="86.7" r="9.5"/>
<circle cx="820.7" cy="86.7" r="4" fill="#ffffff"/>
<circle cx="696" cy="360.2" r="9.3"/>
<circle cx="696" cy="360.2" r="4.8" fill="#ffffff"/>
<circle cx="746.1" cy="360.2" r="9.3"/>
<circle cx="746.1" cy="360.2" r="4.8" fill="#ffffff"/>
<circle cx="696" cy="410" r="9.5"/>
<circle cx="696" cy="410" r="4.9" fill="#ffffff"/>
<circle cx="721.1" cy="410" r="9.5"/>
<circle cx="721.1" cy="410" r="4.9" fill="#ffffff"/>
<circle cx="746.1" cy="410" r="9.5"/>
<circle cx="746.1" cy="410" r="4.9" fill="#ffffff"/>
<circle cx="789.8" cy="410.3" r="9.5"/>
<circle cx="789.8" cy="410.3" r="4" fill="#ffffff"/>
<circle cx="789.8" cy="509.6" r="9.5"/>
<circle cx="789.8" cy="509.6" r="4" fill="#ffffff"/>
<circle cx="814.6" cy="410.3" r="9.5"/>
<circle cx="814.6" cy="410.3" r="4" fill="#ffffff"/>
<circle cx="814.6" cy="509.6" r="9.5"/>
<circle cx="814.6" cy="509.6" r="4" fill="#ffffff"/>
<circle cx="702.5" cy="453.2" r="9.5"/>
<circle cx="702.5" cy="453.2" r="4" fill="#ffffff"/>
<circle cx="702.5" cy="553.3" r="9.5"/>
<circle cx="702.5" cy="553.3" r="4" fill="#ffffff"/>
<circle cx="733.8" cy="553.3" r="9.5"/>
<circle cx="733.8" cy="553.3" r="4" fill="#ffffff"/>
<circle cx="833.5" cy="553.3" r="9.5"/>
<circle cx="833.5" cy="553.3" r="4" fill="#ffffff"/>
<circle cx="733.8" cy="578.0999999999999" r="9.5"/>
<circle cx="733.8" cy="578.0999999999999" r="4" fill="#ffffff"/>
<circle cx="833.5" cy="578.0999999999999" r="9.5"/>
<circle cx="833.5" cy="578.0999999999999" r="4" fill="#ffffff"/>
<circle cx="733.8" cy="602.9" r="9.5"/>
<circle cx="733.8" cy="602.9" r="4" fill="#ffffff"/>
<circle cx="833.5" cy="602.9" r="9.5"/>
<circle cx="833.5" cy="602.9" r="4" fill="#ffffff"/>
<circle cx="733.8" cy="627.6999999999999" r="9.5"/>
<circle cx="733.8" cy="627.6999999999999" r="4" fill="#ffffff"/>
<circle cx="833.5" cy="627.6999999999999" r="9.5"/>
<circle cx="833.5" cy="627.6999999999999" r="4" fill="#ffffff"/>
<rect x="648.55" y="602.7" width="21.5" height="14" rx="7.0"/>
<circle cx="659.3" cy="609.7" r="5" fill="#ffffff"/>
<rect x="648.55" y="620.7" width="21.5" height="14" rx="7.0"/>
<circle cx="659.3" cy="627.7" r="5" fill="#ffffff"/>
<rect x="648.55" y="639.6" width="21.5" height="14" rx="7.0"/>
<circle cx="659.3" cy="646.6" r="5" fill="#ffffff"/>
<rect x="691.95" y="602.7" width="21.5" height="14" rx="7.0"/>
<circle cx="702.7" cy="609.7" r="5" fill="#ffffff"/>
<rect x="691.95" y="620.7" width="21.5" height="14" rx="7.0"/>
<circle cx="702.7" cy="627.7" r="5" fill="#ffffff"/>
<rect x="691.95" y="639.6" width="21.5" height="14" rx="7.0"/>
<circle cx="702.7" cy="646.6" r="5" fill="#ffffff"/>
<circle cx="634" cy="690" r="9.5"/>
<circle cx="634" cy="690" r="4" fill="#ffffff"/>
<circle cx="733.8" cy="690" r="9.5"/>
<circle cx="733.8" cy="690" r="4" fill="#ffffff"/>
<circle cx="497.2" cy="690" r="9.5"/>
<circle cx="497.2" cy="690" r="4.9" fill="#ffffff"/>
<circle cx="522.5" cy="690" r="9.5"/>
<circle cx="522.5" cy="690" r="4.9" fill="#ffffff"/>
<circle cx="547.5" cy="690" r="9.5"/>
<circle cx="547.5" cy="690" r="4.9" fill="#ffffff"/>
<circle cx="765" cy="61.6" r="9.5"/>
<circle cx="765" cy="61.6" r="4" fill="#ffffff"/>
<circle cx="864.5" cy="61.6" r="9.5"/>
<circle cx="864.5" cy="61.6" r="4" fill="#ffffff"/>
<rect x="818.8" y="115.5" width="17" height="17"/>
<circle cx="827.3" cy="124" r="4.5" fill="#ffffff"/>
<circle cx="827.3" cy="161.2" r="9.5"/>
<circle cx="827.3" cy="161.2" r="4.5" fill="#ffffff"/>
<circle cx="883.1" cy="111.6" r="9.5"/>
<circle cx="883.1" cy="111.6" r="4" fill="#ffffff"/>
<circle cx="883.1" cy="210.9" r="9.5"/>
<circle cx="883.1" cy="210.9" r="4" fill="#ffffff"/>
<rect x="899.1" y="110.3" width="17" height="17"/>
<circle cx="907.6" cy="118.8" r="4.5" fill="#ffffff"/>
<circle cx="945.8" cy="118.8" r="9.5"/>
<circle cx="945.8" cy="118.8" r="4.5" fill="#ffffff"/>
<rect x="871.25" y="227.5" width="23.5" height="18" rx="9.0"/>
<circle cx="883" cy="236.5" r="6.1" fill="#ffffff"/>
<rect x="871.25" y="252.39999999999998" width="23.5" height="18" rx="9.0"/>
<circle cx="883" cy="261.4" r="6.1" fill="#ffffff"/>
<rect x="871.25" y="277.4" width="23.5" height="18" rx="9.0"/>
<circle cx="883" cy="286.4" r="6.1" fill="#ffffff"/>
<rect x="871.25" y="302.4" width="23.5" height="18" rx="9.0"/>
<circle cx="883" cy="311.4" r="6.1" fill="#ffffff"/>
<rect x="871.25" y="327.3" width="23.5" height="18" rx="9.0"/>
<circle cx="883" cy="336.3" r="6.1" fill="#ffffff"/>
<rect x="871.25" y="352.3" width="23.5" height="18" rx="9.0"/>
<circle cx="883" cy="361.3" r="6.1" fill="#ffffff"/>
<circle cx="939.2" cy="235.9" r="14.3"/>
<circle cx="939.2" cy="235.9" r="8.2" fill="#ffffff"/>
<circle cx="939.2" cy="274.3" r="14.3"/>
<circle cx="939.2" cy="274.3" r="8.2" fill="#ffffff"/>
<circle cx="939.2" cy="312.9" r="14.3"/>
<circle cx="939.2" cy="312.9" r="8.2" fill="#ffffff"/>
<circle cx="939.2" cy="351.4" r="14.3"/>
<circle cx="939.2" cy="351.4" r="8.2" fill="#ffffff"/>
<rect x="937.05" y="370.75" width="16.5" height="16.5"/>
<circle cx="945.3" cy="379" r="4.5" fill="#ffffff"/>
<rect x="868.4" y="401.3" width="16.8" height="16.8"/>
<circle cx="876.8" cy="409.7" r="4.5" fill="#ffffff"/>
<rect x="895.65" y="400.8" width="23.5" height="17.8" rx="8.9"/>
<circle cx="907.4" cy="409.7" r="5.8" fill="#ffffff"/>
<rect x="926.75" y="400.8" width="23.5" height="17.8" rx="8.9"/>
<circle cx="938.5" cy="409.7" r="5.8" fill="#ffffff"/>
<rect x="895.65" y="425.70000000000005" width="23.5" height="17.8" rx="8.9"/>
<circle cx="907.4" cy="434.6" r="5.8" fill="#ffffff"/>
<rect x="926.75" y="425.70000000000005" width="23.5" height="17.8" rx="8.9"/>
<circle cx="938.5" cy="434.6" r="5.8" fill="#ffffff"/>
<rect x="895.65" y="450.8" width="23.5" height="17.8" rx="8.9"/>
<circle cx="907.4" cy="459.7" r="5.8" fill="#ffffff"/>
<rect x="926.75" y="450.8" width="23.5" height="17.8" rx="8.9"/>
<circle cx="938.5" cy="459.7" r="5.8" fill="#ffffff"/>
<rect x="895.65" y="475.8" width="23.5" height="17.8" rx="8.9"/>
<circle cx="907.4" cy="484.7" r="5.8" fill="#ffffff"/>
<rect x="926.75" y="475.8" width="23.5" height="17.8" rx="8.9"/>
<circle cx="938.5" cy="484.7" r="5.8" fill="#ffffff"/>
<rect x="895.65" y="500.70000000000005" width="23.5" height="17.8" rx="8.9"/>
<circle cx="907.4" cy="509.6" r="5.8" fill="#ffffff"/>
<rect x="926.75" y="500.70000000000005" width="23.5" height="17.8" rx="8.9"/>
<circle cx="938.5" cy="509.6" r="5.8" fill="#ffffff"/>
<circle cx="876.8" cy="447.9" r="9.5"/>
<circle cx="876.8" cy="447.9" r="4" fill="#ffffff"/>
<circle cx="876.8" cy="547.3" r="9.5"/>
<circle cx="876.8" cy="547.3" r="4" fill="#ffffff"/>
<circle cx="907.9" cy="584.3" r="9.5"/>
<circle cx="907.9" cy="584.3" r="4.5" fill="#ffffff"/>
<rect x="936.55" y="575.55" width="17.5" height="17.5"/>
<circle cx="945.3" cy="584.3" r="4.5" fill="#ffffff"/>
<rect x="756.35" y="672.5" width="17.3" height="23.4" rx="8.65"/>
<circle cx="765" cy="684.2" r="6" fill="#ffffff"/>
<rect x="781.35" y="672.5" width="17.3" height="23.4" rx="8.65"/>
<circle cx="790" cy="684.2" r="6" fill="#ffffff"/>
<rect x="806.35" y="672.5" width="17.3" height="23.4" rx="8.65"/>
<circle cx="815" cy="684.2" r="6" fill="#ffffff"/>
<rect x="831.35" y="672.5" width="17.3" height="23.4" rx="8.65"/>
<circle cx="840" cy="684.2" r="6" fill="#ffffff"/>
<rect x="856.35" y="672.5" width="17.3" height="23.4" rx="8.65"/>
<circle cx="865" cy="684.2" r="6" fill="#ffffff"/>
<rect x="881.5500000000001" y="672.5" width="17.3" height="23.4" rx="8.65"/>
<circle cx="890.2" cy="684.2" r="6" fill="#ffffff"/>
</g><g fill="none" stroke="#ffffff" stroke-linecap="butt" stroke-linejoin="miter">
<line x1="171" y1="42.5" x2="201" y2="42.5" stroke-width="2.4"/>
<line x1="147" y1="67.4" x2="201" y2="67.4" stroke-width="2.4"/>
<line x1="111" y1="111" x2="135" y2="111" stroke-width="2.7"/>
<line x1="186" y1="111" x2="211" y2="111" stroke-width="2.7"/>
<rect x="135" y="100.0" width="51" height="22.0" stroke-width="2.7"/>
<line x1="49.3" y1="136.4" x2="49.3" y2="161" stroke-width="2.7"/>
<line x1="49.3" y1="211.5" x2="49.3" y2="235.8" stroke-width="2.7"/>
<rect x="38.3" y="161" width="22.0" height="50.5" stroke-width="2.7"/>
<line x1="74" y1="136.4" x2="74" y2="161" stroke-width="2.7"/>
<line x1="74" y1="211.5" x2="74" y2="235.8" stroke-width="2.7"/>
<rect x="63.0" y="161" width="22.0" height="50.5" stroke-width="2.7"/>
<rect x="30.2" y="266.9" width="45.0" height="75.10000000000002" stroke-width="2.7"/>
<line x1="68.2" y1="266.9" x2="68.2" y2="342" stroke-width="2.7"/>
<rect x="123.9" y="142.7" width="24.69999999999999" height="74.60000000000002" stroke-width="2.1"/>
<rect x="167.4" y="173.5" width="186.29999999999998" height="49.30000000000001" stroke-width="2.1"/>
<rect x="167.4" y="186.5" width="7.0" height="24.0" stroke-width="2.1"/>
<line x1="261" y1="103" x2="261" y2="119" stroke-width="2.4"/>
<line x1="260.7" y1="277" x2="260.7" y2="344" stroke-width="2.4"/>
<line x1="285.5" y1="277" x2="285.5" y2="319" stroke-width="2.4"/>
<line x1="86.2" y1="429" x2="86.2" y2="454.7" stroke-width="2.7"/>
<line x1="86.2" y1="504.5" x2="86.2" y2="528.3" stroke-width="2.7"/>
<rect x="75.7" y="454.7" width="21.0" height="49.80000000000001" stroke-width="2.7"/>
<rect x="149.20000000000002" y="360.7" width="74.29999999999998" height="24.69999999999999" stroke-width="2.1"/>
<rect x="279.40000000000003" y="360.7" width="74.79999999999995" height="24.69999999999999" stroke-width="2.1"/>
<rect x="410.5" y="360.7" width="74.5" height="24.69999999999999" stroke-width="2.1"/>
<rect x="540.6999999999999" y="360.7" width="75.20000000000005" height="24.69999999999999" stroke-width="2.1"/>
<line x1="396" y1="348.1" x2="437.5" y2="348.1" stroke-width="2.4"/>
<line x1="143" y1="410.4" x2="166.5" y2="410.4" stroke-width="2.7"/>
<line x1="217.5" y1="410.4" x2="242.4" y2="410.4" stroke-width="2.7"/>
<rect x="166.5" y="399.65" width="51.0" height="21.5" stroke-width="2.7"/>
<line x1="143" y1="435" x2="143" y2="460.3" stroke-width="2.7"/>
<line x1="143" y1="510.7" x2="143" y2="534.3" stroke-width="2.7"/>
<rect x="132.0" y="460.3" width="22.0" height="50.39999999999998" stroke-width="2.7"/>
<path d="M15,-26 L-10,-26 A29,29 0 0 0 -10,26 L15,26 Z" transform="translate(173.8,472.2)" stroke-width="2.6"/>
<path d="M15,-26 L-10,-26 A29,29 0 0 0 -10,26 L15,26 Z" transform="translate(222.4,472.2)" stroke-width="2.6"/>
<line x1="173.6" y1="547.5" x2="173.6" y2="572.4" stroke-width="2.7"/>
<line x1="173.6" y1="622.6" x2="173.6" y2="646.4" stroke-width="2.7"/>
<rect x="162.6" y="572.4" width="22.0" height="50.200000000000045" stroke-width="2.7"/>
<line x1="198.5" y1="547.5" x2="198.5" y2="572.4" stroke-width="2.7"/>
<line x1="198.5" y1="622.6" x2="198.5" y2="646.4" stroke-width="2.7"/>
<rect x="187.5" y="572.4" width="22.0" height="50.200000000000045" stroke-width="2.7"/>
<line x1="223.5" y1="547.5" x2="223.5" y2="572.4" stroke-width="2.7"/>
<line x1="223.5" y1="622.6" x2="223.5" y2="646.4" stroke-width="2.7"/>
<rect x="212.5" y="572.4" width="22.0" height="50.200000000000045" stroke-width="2.7"/>
<line x1="273.3" y1="410.4" x2="296.8" y2="410.4" stroke-width="2.7"/>
<line x1="347.8" y1="410.4" x2="372.70000000000005" y2="410.4" stroke-width="2.7"/>
<rect x="296.8" y="399.65" width="51.0" height="21.5" stroke-width="2.7"/>
<line x1="273.3" y1="435" x2="273.3" y2="460.3" stroke-width="2.7"/>
<line x1="273.3" y1="510.7" x2="273.3" y2="534.3" stroke-width="2.7"/>
<rect x="262.3" y="460.3" width="22.0" height="50.39999999999998" stroke-width="2.7"/>
<path d="M15,-26 L-10,-26 A29,29 0 0 0 -10,26 L15,26 Z" transform="translate(304.1,472.2)" stroke-width="2.6"/>
<path d="M15,-26 L-10,-26 A29,29 0 0 0 -10,26 L15,26 Z" transform="translate(352.70000000000005,472.2)" stroke-width="2.6"/>
<line x1="303.9" y1="547.5" x2="303.9" y2="572.4" stroke-width="2.7"/>
<line x1="303.9" y1="622.6" x2="303.9" y2="646.4" stroke-width="2.7"/>
<rect x="292.9" y="572.4" width="22.0" height="50.200000000000045" stroke-width="2.7"/>
<line x1="328.8" y1="547.5" x2="328.8" y2="572.4" stroke-width="2.7"/>
<line x1="328.8" y1="622.6" x2="328.8" y2="646.4" stroke-width="2.7"/>
<rect x="317.8" y="572.4" width="22.0" height="50.200000000000045" stroke-width="2.7"/>
<line x1="353.8" y1="547.5" x2="353.8" y2="572.4" stroke-width="2.7"/>
<line x1="353.8" y1="622.6" x2="353.8" y2="646.4" stroke-width="2.7"/>
<rect x="342.8" y="572.4" width="22.0" height="50.200000000000045" stroke-width="2.7"/>
<line x1="404" y1="410.4" x2="427.5" y2="410.4" stroke-width="2.7"/>
<line x1="478.5" y1="410.4" x2="503.4" y2="410.4" stroke-width="2.7"/>
<rect x="427.5" y="399.65" width="51.0" height="21.5" stroke-width="2.7"/>
<line x1="404" y1="435" x2="404" y2="460.3" stroke-width="2.7"/>
<line x1="404" y1="510.7" x2="404" y2="534.3" stroke-width="2.7"/>
<rect x="393.0" y="460.3" width="22.0" height="50.39999999999998" stroke-width="2.7"/>
<path d="M15,-26 L-10,-26 A29,29 0 0 0 -10,26 L15,26 Z" transform="translate(434.8,472.2)" stroke-width="2.6"/>
<path d="M15,-26 L-10,-26 A29,29 0 0 0 -10,26 L15,26 Z" transform="translate(483.4,472.2)" stroke-width="2.6"/>
<line x1="434.6" y1="547.5" x2="434.6" y2="572.4" stroke-width="2.7"/>
<line x1="434.6" y1="622.6" x2="434.6" y2="646.4" stroke-width="2.7"/>
<rect x="423.6" y="572.4" width="22.0" height="50.200000000000045" stroke-width="2.7"/>
<line x1="459.5" y1="547.5" x2="459.5" y2="572.4" stroke-width="2.7"/>
<line x1="459.5" y1="622.6" x2="459.5" y2="646.4" stroke-width="2.7"/>
<rect x="448.5" y="572.4" width="22.0" height="50.200000000000045" stroke-width="2.7"/>
<line x1="484.5" y1="547.5" x2="484.5" y2="572.4" stroke-width="2.7"/>
<line x1="484.5" y1="622.6" x2="484.5" y2="646.4" stroke-width="2.7"/>
<rect x="473.5" y="572.4" width="22.0" height="50.200000000000045" stroke-width="2.7"/>
<line x1="534.8" y1="410.4" x2="558.3" y2="410.4" stroke-width="2.7"/>
<line x1="609.3" y1="410.4" x2="634.2" y2="410.4" stroke-width="2.7"/>
<rect x="558.3" y="399.65" width="51.0" height="21.5" stroke-width="2.7"/>
<line x1="534.8" y1="435" x2="534.8" y2="460.3" stroke-width="2.7"/>
<line x1="534.8" y1="510.7" x2="534.8" y2="534.3" stroke-width="2.7"/>
<rect x="523.8" y="460.3" width="22.0" height="50.39999999999998" stroke-width="2.7"/>
<path d="M15,-26 L-10,-26 A29,29 0 0 0 -10,26 L15,26 Z" transform="translate(565.6,472.2)" stroke-width="2.6"/>
<path d="M15,-26 L-10,-26 A29,29 0 0 0 -10,26 L15,26 Z" transform="translate(614.2,472.2)" stroke-width="2.6"/>
<line x1="565.4" y1="547.5" x2="565.4" y2="572.4" stroke-width="2.7"/>
<line x1="565.4" y1="622.6" x2="565.4" y2="646.4" stroke-width="2.7"/>
<rect x="554.4" y="572.4" width="22.0" height="50.200000000000045" stroke-width="2.7"/>
<line x1="590.3" y1="547.5" x2="590.3" y2="572.4" stroke-width="2.7"/>
<line x1="590.3" y1="622.6" x2="590.3" y2="646.4" stroke-width="2.7"/>
<rect x="579.3" y="572.4" width="22.0" height="50.200000000000045" stroke-width="2.7"/>
<line x1="615.3" y1="547.5" x2="615.3" y2="572.4" stroke-width="2.7"/>
<line x1="615.3" y1="622.6" x2="615.3" y2="646.4" stroke-width="2.7"/>
<rect x="604.3" y="572.4" width="22.0" height="50.200000000000045" stroke-width="2.7"/>
<line x1="634.6" y1="538" x2="634.6" y2="593" stroke-width="2.4"/>
<path d="M15,-26 L-10,-26 A29,29 0 0 0 -10,26 L15,26 Z" transform="translate(111.4,565.7) rotate(90)" stroke-width="2.6"/>
<path d="M15,-26 L-10,-26 A29,29 0 0 0 -10,26 L15,26 Z" transform="translate(111.4,609.2) rotate(90)" stroke-width="2.6"/>
<line x1="24.5" y1="640.2" x2="48" y2="640.2" stroke-width="2.7"/>
<line x1="98.6" y1="640.2" x2="124" y2="640.2" stroke-width="2.7"/>
<rect x="48" y="629.45" width="50.599999999999994" height="21.5" stroke-width="2.7"/>
<rect x="484.6" y="67.2" width="44.299999999999955" height="112.8" stroke-width="2.7"/>
<line x1="522.8" y1="67.2" x2="522.8" y2="187" stroke-width="2.7"/>
<circle cx="504" cy="217.5" r="31.5" stroke-width="2.2"/>
<rect x="540.1" y="135.7" width="51.19999999999993" height="44.30000000000001" stroke-width="2.7"/>
<line x1="540.1" y1="173.9" x2="591.3" y2="173.9" stroke-width="2.7"/>
<line x1="597" y1="42.5" x2="621" y2="42.5" stroke-width="2.7"/>
<line x1="671" y1="42.5" x2="696.6" y2="42.5" stroke-width="2.7"/>
<rect x="621" y="32.0" width="50" height="21.0" stroke-width="2.7"/>
<line x1="638" y1="67.6" x2="674" y2="67.6" stroke-width="2.4"/>
<line x1="571.8" y1="92.4" x2="595.8" y2="92.4" stroke-width="2.7"/>
<line x1="646" y1="92.4" x2="671.2" y2="92.4" stroke-width="2.7"/>
<rect x="595.8" y="81.9" width="50.200000000000045" height="21.0" stroke-width="2.7"/>
<line x1="634" y1="111.2" x2="659.4" y2="111.2" stroke-width="2.7"/>
<line x1="708.3" y1="111.2" x2="733.7" y2="111.2" stroke-width="2.7"/>
<rect x="659.4" y="100.7" width="48.89999999999998" height="21.0" stroke-width="2.7"/>
<line x1="559.6" y1="198.2" x2="559.6" y2="224" stroke-width="2.7"/>
<line x1="559.6" y1="273.8" x2="559.6" y2="298" stroke-width="2.7"/>
<rect x="548.6" y="224" width="22.0" height="49.80000000000001" stroke-width="2.7"/>
<line x1="590.8" y1="198.2" x2="590.8" y2="224" stroke-width="2.7"/>
<line x1="590.8" y1="273.8" x2="590.8" y2="298" stroke-width="2.7"/>
<rect x="579.8" y="224" width="22.0" height="49.80000000000001" stroke-width="2.7"/>
<line x1="615.5" y1="154.7" x2="615.5" y2="180" stroke-width="2.7"/>
<line x1="615.5" y1="230.5" x2="615.5" y2="254.5" stroke-width="2.7"/>
<rect x="604.3" y="180" width="22.40000000000009" height="50.5" stroke-width="2.7"/>
<line x1="652.8" y1="154.7" x2="652.8" y2="180" stroke-width="2.7"/>
<line x1="652.8" y1="229.5" x2="652.8" y2="254.5" stroke-width="2.7"/>
<rect x="641.5999999999999" y="180" width="22.40000000000009" height="49.5" stroke-width="2.7"/>
<line x1="659.2" y1="360.2" x2="659.2" y2="386" stroke-width="2.7"/>
<line x1="659.2" y1="435" x2="659.2" y2="460" stroke-width="2.7"/>
<rect x="648.45" y="386" width="21.5" height="49" stroke-width="2.7"/>
<rect x="696" y="154.8" width="50.60000000000002" height="186.2" stroke-width="2.1"/>
<rect x="709.3" y="334.7" width="24.5" height="6.300000000000011" stroke-width="2.1"/>
<line x1="684" y1="136.2" x2="708.3" y2="136.2" stroke-width="2.7"/>
<line x1="758.4" y1="136.2" x2="783.2" y2="136.2" stroke-width="2.7"/>
<rect x="708.3" y="125.19999999999999" width="50.10000000000002" height="22.0" stroke-width="2.7"/>
<line x1="721.1" y1="86.7" x2="745.4" y2="86.7" stroke-width="2.7"/>
<line x1="796" y1="86.7" x2="820.7" y2="86.7" stroke-width="2.7"/>
<rect x="745.4" y="76.2" width="50.60000000000002" height="21.0" stroke-width="2.7"/>
<rect x="683.8" y="347.6" width="75.20000000000005" height="25.5" stroke-width="2.1"/>
<rect x="670.5" y="385.4" width="101.10000000000002" height="50.0" stroke-width="2.7"/>
<line x1="789.8" y1="410.3" x2="789.8" y2="435.3" stroke-width="2.7"/>
<line x1="789.8" y1="485.5" x2="789.8" y2="509.6" stroke-width="2.7"/>
<rect x="779.05" y="435.3" width="21.5" height="50.19999999999999" stroke-width="2.7"/>
<line x1="814.6" y1="410.3" x2="814.6" y2="435.3" stroke-width="2.7"/>
<line x1="814.6" y1="485.5" x2="814.6" y2="509.6" stroke-width="2.7"/>
<rect x="803.6" y="435.3" width="22.0" height="50.19999999999999" stroke-width="2.7"/>
<line x1="702.5" y1="453.2" x2="702.5" y2="479.4" stroke-width="2.7"/>
<line x1="702.5" y1="528.9" x2="702.5" y2="553.3" stroke-width="2.7"/>
<rect x="691.6" y="479.4" width="21.799999999999955" height="49.5" stroke-width="2.7"/>
<line x1="733.8" y1="553.3" x2="757.6" y2="553.3" stroke-width="2.7"/>
<line x1="808.3" y1="553.3" x2="833.5" y2="553.3" stroke-width="2.7"/>
<rect x="757.6" y="542.55" width="50.69999999999993" height="21.5" stroke-width="2.7"/>
<line x1="733.8" y1="578.0999999999999" x2="757.6" y2="578.0999999999999" stroke-width="2.7"/>
<line x1="808.3" y1="578.0999999999999" x2="833.5" y2="578.0999999999999" stroke-width="2.7"/>
<rect x="757.6" y="567.3499999999999" width="50.69999999999993" height="21.5" stroke-width="2.7"/>
<line x1="733.8" y1="602.9" x2="757.6" y2="602.9" stroke-width="2.7"/>
<line x1="808.3" y1="602.9" x2="833.5" y2="602.9" stroke-width="2.7"/>
<rect x="757.6" y="592.15" width="50.69999999999993" height="21.5" stroke-width="2.7"/>
<line x1="733.8" y1="627.6999999999999" x2="757.6" y2="627.6999999999999" stroke-width="2.7"/>
<line x1="808.3" y1="627.6999999999999" x2="833.5" y2="627.6999999999999" stroke-width="2.7"/>
<rect x="757.6" y="616.9499999999999" width="50.69999999999993" height="21.5" stroke-width="2.7"/>
<path d="M15,-26 L-10,-26 A29,29 0 0 0 -10,26 L15,26 Z" transform="translate(659.3,627.7) scale(-1,1)" stroke-width="2.6"/>
<path d="M15,-26 L-10,-26 A29,29 0 0 0 -10,26 L15,26 Z" transform="translate(702.7,627.7) scale(-1,1)" stroke-width="2.6"/>
<line x1="634" y1="690" x2="657.8" y2="690" stroke-width="2.7"/>
<line x1="708.8" y1="690" x2="733.8" y2="690" stroke-width="2.7"/>
<rect x="657.8" y="679.25" width="51.0" height="21.5" stroke-width="2.7"/>
<rect x="472" y="665.1" width="100.5" height="49.5" stroke-width="2.7"/>
<line x1="765" y1="61.6" x2="788.8" y2="61.6" stroke-width="2.7"/>
<line x1="839.8" y1="61.6" x2="864.5" y2="61.6" stroke-width="2.7"/>
<rect x="788.8" y="50.85" width="51.0" height="21.499999999999993" stroke-width="2.7"/>
<circle cx="828.5" cy="143.2" r="31.7" stroke-width="2.2"/>
<line x1="839" y1="105.5" x2="853" y2="105.5" stroke-width="2.2"/>
<line x1="846" y1="98.5" x2="846" y2="112.5" stroke-width="2.2"/>
<line x1="883.1" y1="111.6" x2="883.1" y2="136" stroke-width="2.7"/>
<line x1="883.1" y1="186.8" x2="883.1" y2="210.9" stroke-width="2.7"/>
<rect x="872.35" y="136" width="21.5" height="50.80000000000001" stroke-width="2.7"/>
<circle cx="928.1" cy="117.9" r="31.6" stroke-width="2.2"/>
<line x1="882.2" y1="99.7" x2="896.2" y2="99.7" stroke-width="2.2"/>
<line x1="889.2" y1="92.7" x2="889.2" y2="106.7" stroke-width="2.2"/>
<path d="M857.8,373.5 V224.2 H903 V214.4 H970.4 V373.5 Z M864.6,224.2 V373.5 M903,224.2 V219 H912.2 V368 H903 V373.5" stroke-width="2.7"/>
<path d="M876.8,401 V392 Q876.8,379 890,379 H937" stroke-width="2.6"/>
<rect x="888.1" y="390.9" width="68.89999999999998" height="137.89999999999998" stroke-width="2.7"/>
<line x1="876.8" y1="447.9" x2="876.8" y2="473.7" stroke-width="2.7"/>
<line x1="876.8" y1="522.7" x2="876.8" y2="547.3" stroke-width="2.7"/>
<rect x="866.05" y="473.7" width="21.5" height="49.00000000000006" stroke-width="2.7"/>
<circle cx="925.5" cy="586" r="32" stroke-width="2.2"/>
<line x1="957.3" y1="603" x2="971.3" y2="603" stroke-width="2.2"/>
<line x1="964.3" y1="596" x2="964.3" y2="610" stroke-width="2.2"/>
<rect x="752.1" y="659.1" width="149.29999999999995" height="43.19999999999993" stroke-width="2.7"/>
<line x1="752.1" y1="665" x2="901.4" y2="665" stroke-width="2.7"/>
<path d="M326,49.5 Q343,56 366,50.5" stroke-width="1.6"/>
</g><g>
<text x="157.5" y="115.3" font-size="12.5" text-anchor="middle" >15K</text>
<text x="165" y="97.5" font-size="12.3" text-anchor="middle" >R44</text>
<text x="53.599999999999994" y="186.25" font-size="12.5" text-anchor="middle" transform="rotate(-90 53.599999999999994 186.25)" >100K</text>
<text x="78.3" y="186.25" font-size="12.5" text-anchor="middle" transform="rotate(-90 78.3 186.25)" >100K</text>
<text x="36" y="183" font-size="12.3" text-anchor="middle" transform="rotate(-90 36 183)" >R3</text>
<text x="98.5" y="183" font-size="12.3" text-anchor="middle" transform="rotate(-90 98.5 183)" >R4</text>
<text x="50.8" y="367.6" font-size="22.5" text-anchor="middle" textLength="26.3" lengthAdjust="spacing" style="stroke-width:0.15px">IN</text>
<text x="11" y="281.6" font-size="9.8" text-anchor="middle" transform="rotate(90 11 281.6)" >IN1</text>
<text x="11" y="305.5" font-size="9.8" text-anchor="middle" transform="rotate(90 11 305.5)" >IN2</text>
<text x="11" y="326.9" font-size="9.8" text-anchor="middle" transform="rotate(90 11 326.9)" >0V</text>
<text x="142.8" y="180.5" font-size="12.3" text-anchor="middle" transform="rotate(-90 142.8 180.5)" >100n</text>
<text x="134.7" y="228.5" font-size="12.3" text-anchor="middle" >C8</text>
<text x="256.3" y="204" font-size="12.6" text-anchor="middle" >LM3900</text>
<text x="185.3" y="263.6" font-size="12.3" text-anchor="middle" >U1</text>
<text x="90.5" y="479.6" font-size="12.5" text-anchor="middle" transform="rotate(-90 90.5 479.6)" >1K</text>
<text x="68" y="480" font-size="12.3" text-anchor="middle" transform="rotate(-90 68 480)" >R7</text>
<text x="186.05" y="384.6" font-size="12.3" text-anchor="middle" >470p</text>
<text x="185.9" y="359.3" font-size="12.3" text-anchor="middle" >C3</text>
<text x="316.5" y="384.6" font-size="12.3" text-anchor="middle" >470p</text>
<text x="315.6" y="359.3" font-size="12.3" text-anchor="middle" >C4</text>
<text x="447.45" y="384.6" font-size="12.3" text-anchor="middle" >470p</text>
<text x="477.3" y="359.3" font-size="12.3" text-anchor="middle" >C5</text>
<text x="578.0" y="384.6" font-size="12.3" text-anchor="middle" >470p</text>
<text x="580" y="359.3" font-size="12.3" text-anchor="middle" >C6</text>
<text x="189.0" y="414.7" font-size="12.5" text-anchor="middle" >10K</text>
<text x="211.2" y="434.3" font-size="12.3" text-anchor="middle" >R13</text>
<text x="147.3" y="485.5" font-size="12.5" text-anchor="middle" transform="rotate(-90 147.3 485.5)" >10K</text>
<text x="129" y="485" font-size="12.3" text-anchor="middle" transform="rotate(-90 129 485)" >R12</text>
<text x="188" y="440" font-size="14" text-anchor="middle" transform="rotate(-90 188 440)" >C</text>
<text x="236.5" y="440" font-size="14" text-anchor="middle" transform="rotate(-90 236.5 440)" >C</text>
<text x="173.8" y="513.3" font-size="12.3" text-anchor="middle" >Q3</text>
<text x="223.4" y="513.3" font-size="12.3" text-anchor="middle" >Q4</text>
<text x="196.8" y="534.2" font-size="12.3" text-anchor="middle" >R9</text>
<text x="160.2" y="596.8" font-size="12.3" text-anchor="middle" transform="rotate(-90 160.2 596.8)" >R10</text>
<text x="248.8" y="596.8" font-size="12.3" text-anchor="middle" transform="rotate(-90 248.8 596.8)" >R11</text>
<text x="177.9" y="597.5" font-size="12.5" text-anchor="middle" transform="rotate(-90 177.9 597.5)" >220</text>
<text x="202.8" y="597.5" font-size="12.5" text-anchor="middle" transform="rotate(-90 202.8 597.5)" >1K</text>
<text x="227.8" y="597.5" font-size="12.5" text-anchor="middle" transform="rotate(-90 227.8 597.5)" >220</text>
<text x="319.3" y="414.7" font-size="12.5" text-anchor="middle" >10K</text>
<text x="341.5" y="434.3" font-size="12.3" text-anchor="middle" >R18</text>
<text x="277.6" y="485.5" font-size="12.5" text-anchor="middle" transform="rotate(-90 277.6 485.5)" >10K</text>
<text x="259.3" y="485" font-size="12.3" text-anchor="middle" transform="rotate(-90 259.3 485)" >R17</text>
<text x="318.3" y="440" font-size="14" text-anchor="middle" transform="rotate(-90 318.3 440)" >C</text>
<text x="366.8" y="440" font-size="14" text-anchor="middle" transform="rotate(-90 366.8 440)" >C</text>
<text x="304.1" y="513.3" font-size="12.3" text-anchor="middle" >Q5</text>
<text x="353.70000000000005" y="513.3" font-size="12.3" text-anchor="middle" >Q6</text>
<text x="327.1" y="534.2" font-size="12.3" text-anchor="middle" >R14</text>
<text x="290.5" y="596.8" font-size="12.3" text-anchor="middle" transform="rotate(-90 290.5 596.8)" >R15</text>
<text x="379.1" y="596.8" font-size="12.3" text-anchor="middle" transform="rotate(-90 379.1 596.8)" >R16</text>
<text x="308.2" y="597.5" font-size="12.5" text-anchor="middle" transform="rotate(-90 308.2 597.5)" >220</text>
<text x="333.1" y="597.5" font-size="12.5" text-anchor="middle" transform="rotate(-90 333.1 597.5)" >1K</text>
<text x="358.1" y="597.5" font-size="12.5" text-anchor="middle" transform="rotate(-90 358.1 597.5)" >220</text>
<text x="450.0" y="414.7" font-size="12.5" text-anchor="middle" >10K</text>
<text x="472.2" y="434.3" font-size="12.3" text-anchor="middle" >R23</text>
<text x="408.3" y="485.5" font-size="12.5" text-anchor="middle" transform="rotate(-90 408.3 485.5)" >10K</text>
<text x="390" y="485" font-size="12.3" text-anchor="middle" transform="rotate(-90 390 485)" >R22</text>
<text x="449" y="440" font-size="14" text-anchor="middle" transform="rotate(-90 449 440)" >C</text>
<text x="497.5" y="440" font-size="14" text-anchor="middle" transform="rotate(-90 497.5 440)" >C</text>
<text x="434.8" y="513.3" font-size="12.3" text-anchor="middle" >Q7</text>
<text x="484.4" y="513.3" font-size="12.3" text-anchor="middle" >Q8</text>
<text x="457.8" y="534.2" font-size="12.3" text-anchor="middle" >R19</text>
<text x="421.2" y="596.8" font-size="12.3" text-anchor="middle" transform="rotate(-90 421.2 596.8)" >R20</text>
<text x="509.8" y="596.8" font-size="12.3" text-anchor="middle" transform="rotate(-90 509.8 596.8)" >R21</text>
<text x="438.90000000000003" y="597.5" font-size="12.5" text-anchor="middle" transform="rotate(-90 438.90000000000003 597.5)" >220</text>
<text x="463.8" y="597.5" font-size="12.5" text-anchor="middle" transform="rotate(-90 463.8 597.5)" >1K</text>
<text x="488.8" y="597.5" font-size="12.5" text-anchor="middle" transform="rotate(-90 488.8 597.5)" >220</text>
<text x="580.8" y="414.7" font-size="12.5" text-anchor="middle" >10K</text>
<text x="603.0" y="434.3" font-size="12.3" text-anchor="middle" >R28</text>
<text x="539.0999999999999" y="485.5" font-size="12.5" text-anchor="middle" transform="rotate(-90 539.0999999999999 485.5)" >10K</text>
<text x="520.8" y="485" font-size="12.3" text-anchor="middle" transform="rotate(-90 520.8 485)" >R27</text>
<text x="579.8" y="440" font-size="14" text-anchor="middle" transform="rotate(-90 579.8 440)" >C</text>
<text x="628.3" y="440" font-size="14" text-anchor="middle" transform="rotate(-90 628.3 440)" >C</text>
<text x="565.6" y="513.3" font-size="12.3" text-anchor="middle" >Q9</text>
<text x="615.2" y="513.3" font-size="12.3" text-anchor="middle" >Q10</text>
<text x="588.6" y="534.2" font-size="12.3" text-anchor="middle" >R24</text>
<text x="552.0" y="596.8" font-size="12.3" text-anchor="middle" transform="rotate(-90 552.0 596.8)" >R25</text>
<text x="615.3" y="670.7" font-size="12.3" text-anchor="middle" >R26</text>
<text x="569.6999999999999" y="597.5" font-size="12.5" text-anchor="middle" transform="rotate(-90 569.6999999999999 597.5)" >220</text>
<text x="594.5999999999999" y="597.5" font-size="12.5" text-anchor="middle" transform="rotate(-90 594.5999999999999 597.5)" >1K</text>
<text x="619.5999999999999" y="597.5" font-size="12.5" text-anchor="middle" transform="rotate(-90 619.5999999999999 597.5)" >220</text>
<text x="72" y="571.3" font-size="12.3" text-anchor="middle" >Q1</text>
<text x="72" y="614.6" font-size="12.3" text-anchor="middle" >Q2</text>
<text x="143.6" y="579.6" font-size="12.5" text-anchor="middle" >C</text>
<text x="143.6" y="623" font-size="12.5" text-anchor="middle" >C</text>
<text x="70.3" y="644.5" font-size="12.5" text-anchor="middle" >220</text>
<text x="88.5" y="664.3" font-size="12.3" text-anchor="middle" >R8</text>
<text x="508.2" y="57.8" font-size="23" text-anchor="middle" letter-spacing="1.3" style="stroke-width:0.15px">RES</text>
<text x="462.5" y="92.8" font-size="14" text-anchor="middle" font-weight="bold" textLength="19.5" lengthAdjust="spacingAndGlyphs">WC</text>
<text x="462.5" y="115.5" font-size="14" text-anchor="middle" font-weight="bold" textLength="30" lengthAdjust="spacingAndGlyphs">CCW</text>
<text x="462.5" y="141.3" font-size="14" text-anchor="middle" font-weight="bold" textLength="19.5" lengthAdjust="spacingAndGlyphs">WR</text>
<text x="462.5" y="165.6" font-size="14" text-anchor="middle" font-weight="bold" textLength="18.5" lengthAdjust="spacingAndGlyphs">CW</text>
<text x="504" y="222" font-size="12.3" text-anchor="middle" >22uF</text>
<text x="504" y="265.5" font-size="12.3" text-anchor="middle" >C9</text>
<text x="567.8" y="130.6" font-size="22" text-anchor="middle" textLength="43" lengthAdjust="spacingAndGlyphs" style="stroke-width:0.15px">OUT</text>
<text x="645.5" y="46.8" font-size="12.5" text-anchor="middle" >100K</text>
<text x="642.6" y="29.4" font-size="12.3" text-anchor="middle" >R6</text>
<text x="617.9" y="96.7" font-size="12.5" text-anchor="middle" >10K</text>
<text x="600.3" y="79.6" font-size="12.3" text-anchor="middle" >R43</text>
<text x="679.8499999999999" y="115.5" font-size="12.5" text-anchor="middle" >1K</text>
<text x="644.2" y="135" font-size="12.3" text-anchor="middle" >R42</text>
<text x="563.9" y="248.9" font-size="12.5" text-anchor="middle" transform="rotate(-90 563.9 248.9)" >10K</text>
<text x="595.0999999999999" y="248.9" font-size="12.5" text-anchor="middle" transform="rotate(-90 595.0999999999999 248.9)" >10K</text>
<text x="548" y="251" font-size="12.3" text-anchor="middle" transform="rotate(-90 548 251)" >R37</text>
<text x="589.4" y="320" font-size="12.3" text-anchor="middle" >R38</text>
<text x="619.8" y="205.25" font-size="12.5" text-anchor="middle" transform="rotate(-90 619.8 205.25)" >100K</text>
<text x="657.0999999999999" y="204.75" font-size="12.5" text-anchor="middle" transform="rotate(-90 657.0999999999999 204.75)" >10K</text>
<text x="619.2" y="277.8" font-size="12.3" text-anchor="middle" >R39</text>
<text x="650.8" y="277.8" font-size="12.3" text-anchor="middle" >R35</text>
<text x="663.5" y="410.5" font-size="12.5" text-anchor="middle" transform="rotate(-90 663.5 410.5)" >10K</text>
<text x="659.2" y="483.4" font-size="12.3" text-anchor="middle" >R36</text>
<text x="728.4" y="257" font-size="13" text-anchor="middle" transform="rotate(-90 728.4 257)" >TL074</text>
<text x="782.4" y="329" font-size="12.3" text-anchor="middle" >U2</text>
<text x="730.3499999999999" y="140.5" font-size="12.5" text-anchor="middle" >27K</text>
<text x="769" y="160" font-size="12.3" text-anchor="middle" >R40</text>
<text x="767.7" y="91.0" font-size="12.5" text-anchor="middle" >27K</text>
<text x="736.4" y="73.3" font-size="12.3" text-anchor="middle" >R41</text>
<text x="720.5" y="363.9" font-size="12.3" text-anchor="middle" >100n</text>
<text x="768.5" y="365.4" font-size="12.3" text-anchor="middle" >C7</text>
<text x="715.8" y="395.6" font-size="11.8" text-anchor="middle" >50K</text>
<text x="785.5" y="390.5" font-size="12.3" text-anchor="middle" >T1</text>
<text x="737" y="454.6" font-size="22.5" text-anchor="middle" textLength="46.5" lengthAdjust="spacing" style="stroke-width:0.15px">INIT</text>
<text x="794.0999999999999" y="460.4" font-size="12.5" text-anchor="middle" transform="rotate(-90 794.0999999999999 460.4)" >33K</text>
<text x="818.9" y="460.4" font-size="12.5" text-anchor="middle" transform="rotate(-90 818.9 460.4)" >10K</text>
<text x="776.5" y="461.5" font-size="12.3" text-anchor="middle" transform="rotate(-90 776.5 461.5)" >R45</text>
<text x="838.5" y="460.3" font-size="12.3" text-anchor="middle" transform="rotate(-90 838.5 460.3)" >R29</text>
<text x="706.8" y="504.15" font-size="12.5" text-anchor="middle" transform="rotate(-90 706.8 504.15)" >100K</text>
<text x="689" y="504.2" font-size="12.3" text-anchor="middle" transform="rotate(-90 689 504.2)" >R34</text>
<text x="782.45" y="557.5999999999999" font-size="12.5" text-anchor="middle" >150K</text>
<text x="782.45" y="582.3999999999999" font-size="12.5" text-anchor="middle" >100K</text>
<text x="856" y="582.4999999999999" font-size="12.3" text-anchor="middle" >R32</text>
<text x="782.45" y="607.1999999999999" font-size="12.5" text-anchor="middle" >100K</text>
<text x="856" y="607.3" font-size="12.3" text-anchor="middle" >R31</text>
<text x="782.45" y="631.9999999999999" font-size="12.5" text-anchor="middle" >100K</text>
<text x="856" y="632.0999999999999" font-size="12.3" text-anchor="middle" >R30</text>
<text x="781" y="539.7" font-size="12.3" text-anchor="middle" >R33</text>
<text x="664.5" y="597.1" font-size="12.3" text-anchor="middle" >Q11</text>
<text x="700.4" y="597.1" font-size="12.3" text-anchor="middle" >Q12</text>
<text x="645.5" y="660.3" font-size="12.5" text-anchor="middle" transform="rotate(90 645.5 660.3)" >C</text>
<text x="688.5" y="660.3" font-size="12.5" text-anchor="middle" transform="rotate(90 688.5 660.3)" >C</text>
<text x="679.3" y="694.3" font-size="12.5" text-anchor="middle" >1K</text>
<text x="684" y="677.1" font-size="12.3" text-anchor="middle" >R46</text>
<text x="521" y="663.6" font-size="12.3" text-anchor="middle" >T2</text>
<text x="521.7" y="676.9" font-size="12.3" text-anchor="middle" >2K</text>
<text x="430" y="699.9" font-size="23" text-anchor="middle"  style="stroke-width:0.15px">V/OCT</text>
<text x="813.8" y="65.9" font-size="12.5" text-anchor="middle" >100K</text>
<text x="816.5" y="47.2" font-size="12.3" text-anchor="middle" >R5</text>
<text x="830.3" y="147.5" font-size="12.3" text-anchor="middle" >22uF</text>
<text x="828.2" y="190.3" font-size="12.3" text-anchor="middle" transform="rotate(90 828.2 190.3)" >C10</text>
<text x="887.4" y="161.4" font-size="12.5" text-anchor="middle" transform="rotate(-90 887.4 161.4)" >10</text>
<text x="869.8" y="171.5" font-size="12.3" text-anchor="middle" transform="rotate(-90 869.8 171.5)" >R1</text>
<text x="927.4" y="106" font-size="12.3" text-anchor="middle" >22uF</text>
<text x="924.7" y="166.7" font-size="12.3" text-anchor="middle" >C1</text>
<text x="977.4" y="240.5" font-size="12.5" text-anchor="middle" >+</text>
<text x="978" y="294.5" font-size="13" text-anchor="middle" >0v</text>
<text x="977.4" y="357.3" font-size="9" text-anchor="middle" >−</text>
<text x="971.4" y="411" font-size="12.5" text-anchor="middle" >+</text>
<text x="974.5" y="463.5" font-size="13" text-anchor="middle" >0v</text>
<text x="971.8" y="513" font-size="9" text-anchor="middle" >−</text>
<text x="867.5" y="437.2" font-size="21.5" text-anchor="middle" transform="rotate(-90 867.5 437.2)" textLength="50" lengthAdjust="spacingAndGlyphs" style="stroke-width:0.15px">EURO</text>
<text x="881.0999999999999" y="498.20000000000005" font-size="12.5" text-anchor="middle" transform="rotate(-90 881.0999999999999 498.20000000000005)" >10</text>
<text x="863.2" y="500.7" font-size="12.3" text-anchor="middle" transform="rotate(-90 863.2 500.7)" >R2</text>
<text x="925.5" y="607.3" font-size="12.3" text-anchor="middle" >22uF</text>
<text x="928.5" y="552.7" font-size="12.3" text-anchor="middle" >C2</text>
<text x="896.8" y="656.4" font-size="22.8" text-anchor="middle" textLength="73" lengthAdjust="spacing" style="stroke-width:0.15px">CV-IN</text>
<text x="768.4" y="722.8" font-size="9" text-anchor="middle" font-weight="bold">0V</text>
<text x="796.8" y="722.8" font-size="9" text-anchor="middle" font-weight="bold">CV1</text>
<text x="822.8" y="722.8" font-size="9" text-anchor="middle" font-weight="bold">CV2</text>
<text x="848.5" y="722.8" font-size="9" text-anchor="middle" font-weight="bold">CV3</text>
<text x="867.9" y="722.8" font-size="9" text-anchor="middle" font-weight="bold">P</text>
<text x="887.5" y="722.8" font-size="9" text-anchor="middle" font-weight="bold">+</text>
<text x="349" y="45.8" font-size="24" text-anchor="middle" class="logo" textLength="91" lengthAdjust="spacingAndGlyphs" style="stroke-width:0.15px">Yusynth</text>
<text x="355" y="74.6" font-size="18.7" text-anchor="middle" class="big" textLength="153" lengthAdjust="spacing">ARP-VCF 2006</text>
<text font-size="21" text-anchor="middle" class="cu" transform="translate(85.5,328.5) rotate(-90) scale(1,-1)" textLength="150" lengthAdjust="spacing" x="0" y="0">ARP-VCF 2006</text>
<text font-size="24" text-anchor="middle" class="logo cu" transform="translate(124.5,324.5) rotate(-90) scale(1,-1)" textLength="90" lengthAdjust="spacingAndGlyphs" x="0" y="0">Yusynth</text>
<path d="M122.5,347 Q117.5,330 121.5,306" fill="none" stroke="#437c42" stroke-width="1.5"/>
<line x1="77.6" y1="399" x2="77.6" y2="510" stroke="#a9cfa6" stroke-width="0.7"/>
</g></svg></body></html>
